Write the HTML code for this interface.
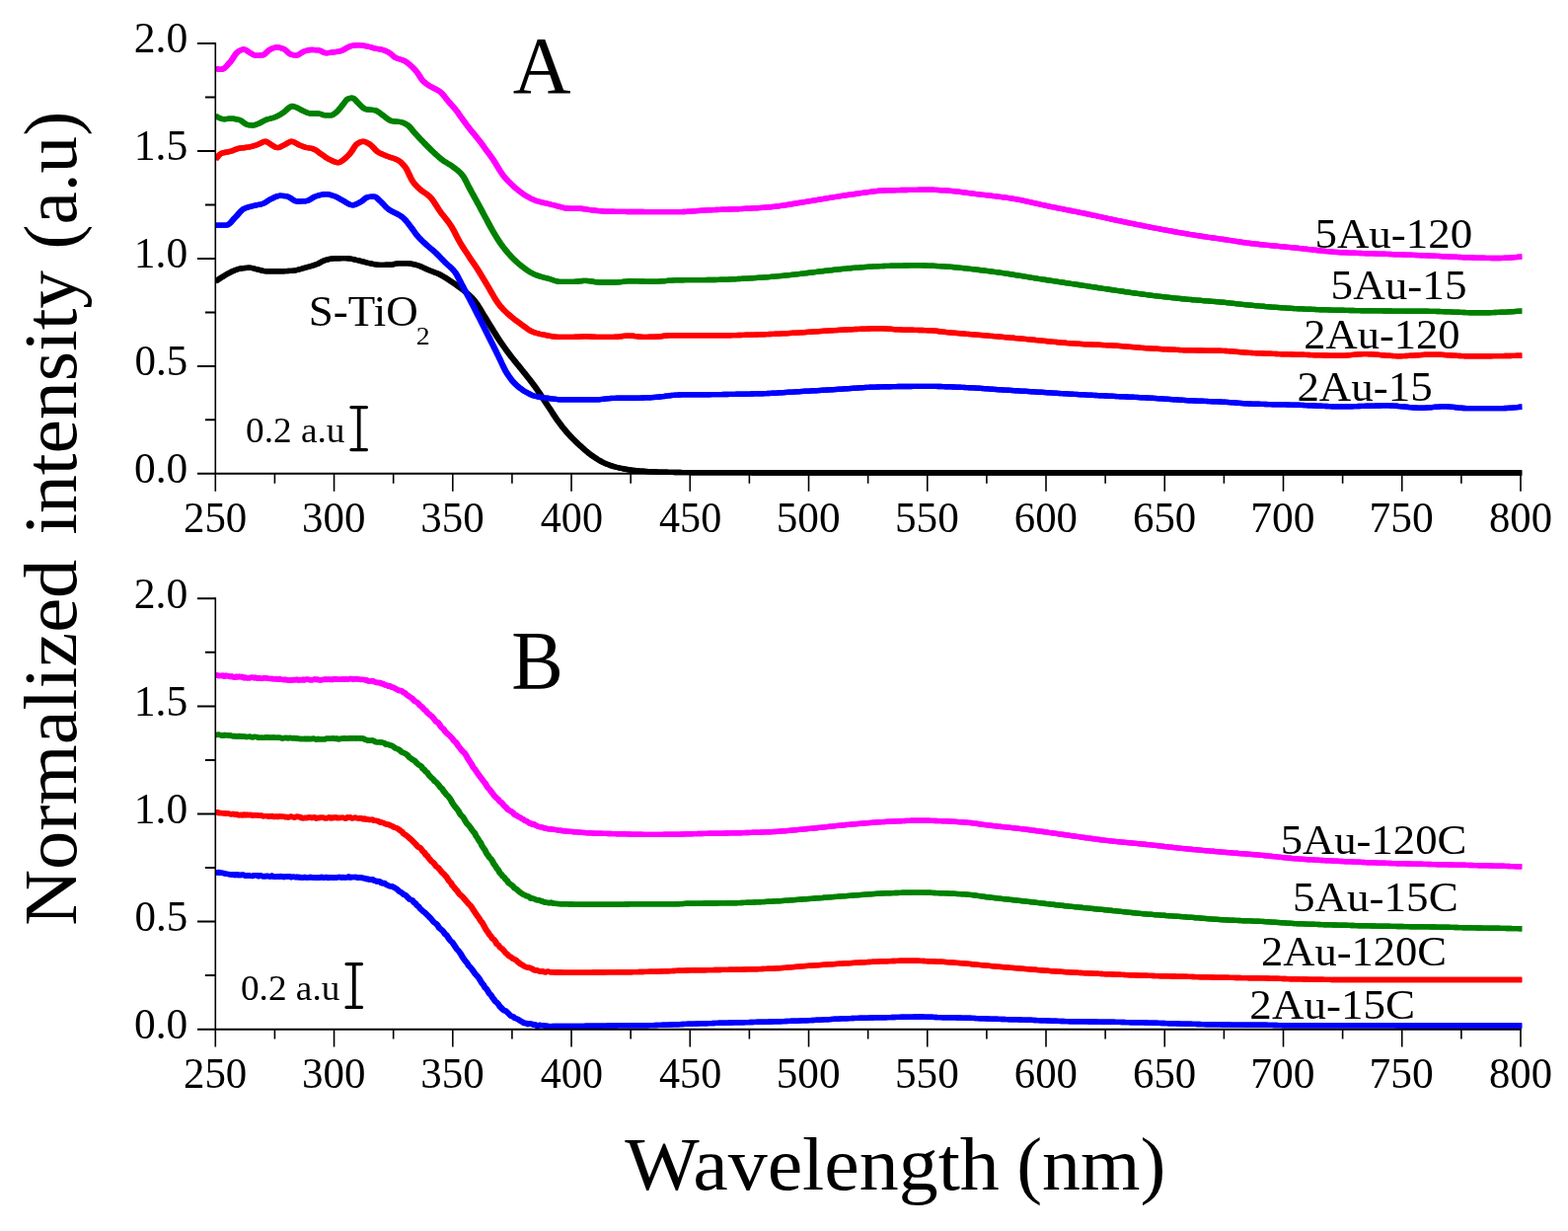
<!DOCTYPE html>
<html><head><meta charset="utf-8"><title>UV-vis spectra</title>
<style>
html,body{margin:0;padding:0;background:#fff;}
svg{display:block;}
text{font-family:"Liberation Serif",serif;fill:#000;}
</style></head>
<body>
<svg width="1589" height="1247" viewBox="0 0 1589 1247">
<rect width="1589" height="1247" fill="#fff"/>
<defs><clipPath id="ca"><rect x="219.1" y="0" width="1323.3" height="1247"/></clipPath></defs>
<g clip-path="url(#ca)" fill="none" stroke="#000000" stroke-width="5.4" stroke-linejoin="round"><path id="c1" transform="translate(-0.5,0)" d="M218.5,285.0 L220.0,284.0 L221.5,283.0 L223.0,282.0 L224.5,281.0 L226.0,280.1 L227.5,279.2 L229.0,278.3 L230.5,277.4 L232.0,276.6 L233.5,275.8 L235.0,275.0 L236.5,274.4 L238.0,273.8 L239.5,273.2 L241.0,272.7 L242.5,272.3 L244.0,272.0 L245.5,271.8 L247.0,271.6 L248.5,271.5 L250.0,271.4 L251.5,271.3 L253.0,271.3 L254.5,271.4 L256.0,271.6 L257.5,272.0 L259.0,272.5 L260.5,272.9 L262.0,273.2 L263.5,273.6 L265.0,274.0 L266.5,274.3 L268.0,274.6 L269.5,274.7 L271.0,274.7 L272.5,274.7 L274.0,274.7 L275.5,274.7 L277.0,274.7 L278.5,274.7 L280.0,274.7 L281.5,274.7 L283.0,274.7 L284.5,274.7 L286.0,274.7 L287.5,274.7 L289.0,274.6 L290.5,274.6 L292.0,274.5 L293.5,274.4 L295.0,274.4 L296.5,274.3 L298.0,274.1 L299.5,273.9 L301.0,273.5 L302.5,273.1 L304.0,272.7 L305.5,272.3 L307.0,271.8 L308.5,271.4 L310.0,271.0 L311.5,270.6 L313.0,270.2 L314.5,269.8 L316.0,269.3 L317.5,268.9 L319.0,268.4 L320.5,267.8 L322.0,267.3 L323.5,266.5 L325.0,265.7 L326.5,264.8 L328.0,264.1 L329.5,263.6 L331.0,263.2 L332.5,262.8 L334.0,262.4 L335.5,262.1 L337.0,262.0 L338.5,261.9 L340.0,261.8 L341.5,261.8 L343.0,261.7 L344.5,261.7 L346.0,261.6 L347.5,261.6 L349.0,261.6 L350.5,261.6 L352.0,261.7 L353.5,261.8 L355.0,262.1 L356.5,262.4 L358.0,262.7 L359.5,263.0 L361.0,263.4 L362.5,263.7 L364.0,264.0 L365.5,264.4 L367.0,264.8 L368.5,265.2 L370.0,265.6 L371.5,266.0 L373.0,266.4 L374.5,266.7 L376.0,267.0 L377.5,267.3 L379.0,267.6 L380.5,267.9 L382.0,268.1 L383.5,268.3 L385.0,268.4 L386.5,268.4 L388.0,268.4 L389.5,268.4 L391.0,268.3 L392.5,268.3 L394.0,268.3 L395.5,268.2 L397.0,268.1 L398.5,267.8 L400.0,267.4 L401.5,267.1 L403.0,266.9 L404.5,266.9 L406.0,266.9 L407.5,266.9 L409.0,266.9 L410.5,266.9 L412.0,266.9 L413.5,266.9 L415.0,267.0 L416.5,267.2 L418.0,267.5 L419.5,267.8 L421.0,268.2 L422.5,268.6 L424.0,269.0 L425.5,269.5 L427.0,270.2 L428.5,270.9 L430.0,271.6 L431.5,272.3 L433.0,273.0 L434.5,273.6 L436.0,274.2 L437.5,274.8 L439.0,275.3 L440.5,275.9 L442.0,276.5 L443.5,277.1 L445.0,277.7 L446.5,278.5 L448.0,279.3 L449.5,280.2 L451.0,281.1 L452.5,282.1 L454.0,283.1 L455.5,284.1 L457.0,285.1 L458.5,286.1 L460.0,287.1 L461.5,288.1 L463.0,289.1 L464.5,290.2 L466.0,291.2 L467.5,292.4 L469.0,293.5 L470.5,294.7 L472.0,296.0 L473.5,297.2 L475.0,298.5 L476.5,299.9 L478.0,301.4 L479.5,303.0 L481.0,304.8 L482.5,306.8 L484.0,309.0 L485.5,311.4 L487.0,313.8 L488.5,316.3 L490.0,318.9 L491.5,321.3 L493.0,323.7 L494.5,326.1 L496.0,328.6 L497.5,331.0 L499.0,333.5 L500.5,335.9 L502.0,338.3 L503.5,340.7 L505.0,343.0 L506.5,345.2 L508.0,347.4 L509.5,349.6 L511.0,351.7 L512.5,353.8 L514.0,355.8 L515.5,357.8 L517.0,359.8 L518.5,361.8 L520.0,363.7 L521.5,365.6 L523.0,367.4 L524.5,369.3 L526.0,371.1 L527.5,372.9 L529.0,374.8 L530.5,376.7 L532.0,378.5 L533.5,380.4 L535.0,382.3 L536.5,384.2 L538.0,386.2 L539.5,388.1 L541.0,390.1 L542.5,392.1 L544.0,394.2 L545.5,396.4 L547.0,398.6 L548.5,400.9 L550.0,403.2 L551.5,405.5 L553.0,407.8 L554.5,410.1 L556.0,412.4 L557.5,414.6 L559.0,416.9 L560.5,419.2 L562.0,421.5 L563.5,423.7 L565.0,425.9 L566.5,427.9 L568.0,429.9 L569.5,431.9 L571.0,433.7 L572.5,435.6 L574.0,437.4 L575.5,439.1 L577.0,440.7 L578.5,442.3 L580.0,443.9 L581.5,445.4 L583.0,446.8 L584.5,448.3 L586.0,449.7 L587.5,451.1 L589.0,452.4 L590.5,453.8 L592.0,455.1 L593.5,456.5 L595.0,457.7 L596.5,459.0 L598.0,460.1 L599.5,461.2 L601.0,462.3 L602.5,463.3 L604.0,464.3 L605.5,465.3 L607.0,466.2 L608.5,467.0 L610.0,467.8 L611.5,468.6 L613.0,469.3 L614.5,469.9 L616.0,470.5 L617.5,471.1 L619.0,471.6 L620.5,472.1 L622.0,472.6 L623.5,473.0 L625.0,473.4 L626.5,473.7 L628.0,474.1 L629.5,474.4 L631.0,474.7 L632.5,475.0 L634.0,475.3 L635.5,475.5 L637.0,475.8 L638.5,476.0 L640.0,476.2 L641.5,476.4 L643.0,476.5 L644.5,476.7 L646.0,476.8 L647.5,477.0 L649.0,477.1 L650.5,477.2 L652.0,477.3 L653.5,477.4 L655.0,477.5 L656.5,477.6 L658.0,477.7 L659.5,477.8 L661.0,477.8 L662.5,477.9 L664.0,478.0 L665.5,478.0 L667.0,478.1 L668.5,478.1 L670.0,478.2 L671.5,478.2 L673.0,478.3 L674.5,478.3 L676.0,478.3 L677.5,478.4 L679.0,478.4 L680.5,478.4 L682.0,478.4 L683.5,478.5 L685.0,478.5 L686.5,478.5 L688.0,478.5 L689.5,478.5 L691.0,478.6 L692.5,478.6 L694.0,478.6 L695.5,478.6 L697.0,478.6 L698.5,478.6 L700.0,478.7 L701.5,478.7 L703.0,478.7 L704.5,478.7 L706.0,478.7 L707.5,478.7 L709.0,478.7 L710.5,478.7 L712.0,478.8 L713.5,478.8 L715.0,478.8 L716.5,478.8 L718.0,478.8 L719.5,478.8 L721.0,478.8 L722.5,478.8 L724.0,478.8 L725.5,478.8 L727.0,478.8 L728.5,478.8 L730.0,478.8 L731.5,478.8 L733.0,478.9 L734.5,478.9 L736.0,478.9 L737.5,478.9 L739.0,478.9 L740.5,478.9 L742.0,478.9 L743.5,478.9 L745.0,478.9 L746.5,478.9 L748.0,478.9 L749.5,478.9 L751.0,478.9 L752.5,478.9 L754.0,478.9 L755.5,478.9 L757.0,478.9 L758.5,478.9 L760.0,478.9 L761.5,478.9 L763.0,479.0 L764.5,479.0 L766.0,479.0 L767.5,479.0 L769.0,479.0 L770.5,479.0 L772.0,479.0 L773.5,479.0 L775.0,479.0 L776.5,479.0 L778.0,479.0 L779.5,479.0 L781.0,479.0 L782.5,479.0 L784.0,479.0 L785.5,479.0 L787.0,479.0 L788.5,479.0 L790.0,479.0 L791.5,479.0 L793.0,479.0 L794.5,479.0 L796.0,479.0 L797.5,479.0 L799.0,479.0 L800.5,479.0 L802.0,479.0 L803.5,479.0 L805.0,479.0 L806.5,479.0 L808.0,479.0 L809.5,479.0 L811.0,479.0 L812.5,479.0 L814.0,479.0 L815.5,479.0 L817.0,479.0 L818.5,479.0 L820.0,479.0 L821.5,479.0 L823.0,479.0 L824.5,479.0 L826.0,479.0 L827.5,479.0 L829.0,479.0 L830.5,479.0 L832.0,479.0 L833.5,479.0 L835.0,479.0 L836.5,479.0 L838.0,479.0 L839.5,479.0 L841.0,479.0 L842.5,479.0 L844.0,479.0 L845.5,479.0 L847.0,479.0 L848.5,479.0 L850.0,479.0 L851.5,479.0 L853.0,479.0 L854.5,479.0 L856.0,479.0 L857.5,479.0 L859.0,479.0 L860.5,479.0 L862.0,479.0 L863.5,479.0 L865.0,479.0 L866.5,479.0 L868.0,479.0 L869.5,479.0 L871.0,479.0 L872.5,479.0 L874.0,479.0 L875.5,479.0 L877.0,479.0 L878.5,479.0 L880.0,479.0 L881.5,479.0 L883.0,479.0 L884.5,479.0 L886.0,479.0 L887.5,479.0 L889.0,479.0 L890.5,479.0 L892.0,479.0 L893.5,479.0 L895.0,479.0 L896.5,479.0 L898.0,479.0 L899.5,479.0 L901.0,479.0 L902.5,479.0 L904.0,479.0 L905.5,479.0 L907.0,479.0 L908.5,479.0 L910.0,479.0 L911.5,479.0 L913.0,479.0 L914.5,479.0 L916.0,479.0 L917.5,479.0 L919.0,479.0 L920.5,479.0 L922.0,479.0 L923.5,479.0 L925.0,479.0 L926.5,479.0 L928.0,479.0 L929.5,479.0 L931.0,479.0 L932.5,479.0 L934.0,479.0 L935.5,479.0 L937.0,479.0 L938.5,479.0 L940.0,479.0 L941.5,479.0 L943.0,479.0 L944.5,479.0 L946.0,479.0 L947.5,479.0 L949.0,479.0 L950.5,479.0 L952.0,479.0 L953.5,479.0 L955.0,479.0 L956.5,479.0 L958.0,479.0 L959.5,479.0 L961.0,479.0 L962.5,479.0 L964.0,479.0 L965.5,479.0 L967.0,479.0 L968.5,479.0 L970.0,479.0 L971.5,479.0 L973.0,479.0 L974.5,479.0 L976.0,479.0 L977.5,479.0 L979.0,479.0 L980.5,479.0 L982.0,479.0 L983.5,479.0 L985.0,479.0 L986.5,479.0 L988.0,479.0 L989.5,479.0 L991.0,479.0 L992.5,479.0 L994.0,479.0 L995.5,479.0 L997.0,479.0 L998.5,479.0 L1000.0,479.0 L1001.5,479.0 L1003.0,479.0 L1004.5,479.0 L1006.0,479.0 L1007.5,479.0 L1009.0,479.0 L1010.5,479.0 L1012.0,479.0 L1013.5,479.0 L1015.0,479.0 L1016.5,479.0 L1018.0,479.0 L1019.5,479.0 L1021.0,479.0 L1022.5,479.0 L1024.0,479.0 L1025.5,479.0 L1027.0,479.0 L1028.5,479.0 L1030.0,479.0 L1031.5,479.0 L1033.0,479.0 L1034.5,479.0 L1036.0,479.0 L1037.5,479.0 L1039.0,479.0 L1040.5,479.0 L1042.0,479.0 L1043.5,479.0 L1045.0,479.0 L1046.5,479.0 L1048.0,479.0 L1049.5,479.0 L1051.0,479.0 L1052.5,479.0 L1054.0,479.0 L1055.5,479.0 L1057.0,479.0 L1058.5,479.0 L1060.0,479.0 L1061.5,479.0 L1063.0,479.0 L1064.5,479.0 L1066.0,479.0 L1067.5,479.0 L1069.0,479.0 L1070.5,479.0 L1072.0,479.0 L1073.5,479.0 L1075.0,479.0 L1076.5,479.0 L1078.0,479.0 L1079.5,479.0 L1081.0,479.0 L1082.5,479.0 L1084.0,479.0 L1085.5,479.0 L1087.0,479.0 L1088.5,479.0 L1090.0,479.0 L1091.5,479.0 L1093.0,479.0 L1094.5,479.0 L1096.0,479.0 L1097.5,479.0 L1099.0,479.0 L1100.5,479.0 L1102.0,479.0 L1103.5,479.0 L1105.0,479.0 L1106.5,479.0 L1108.0,479.0 L1109.5,479.0 L1111.0,479.0 L1112.5,479.0 L1114.0,479.0 L1115.5,479.0 L1117.0,479.0 L1118.5,479.0 L1120.0,479.0 L1121.5,479.0 L1123.0,479.0 L1124.5,479.0 L1126.0,479.0 L1127.5,479.0 L1129.0,479.0 L1130.5,479.0 L1132.0,479.0 L1133.5,479.0 L1135.0,479.0 L1136.5,479.0 L1138.0,479.0 L1139.5,479.0 L1141.0,479.0 L1142.5,479.0 L1144.0,479.0 L1145.5,479.0 L1147.0,479.0 L1148.5,479.0 L1150.0,479.0 L1151.5,479.0 L1153.0,479.0 L1154.5,479.0 L1156.0,479.0 L1157.5,479.0 L1159.0,479.0 L1160.5,479.0 L1162.0,479.0 L1163.5,479.0 L1165.0,479.0 L1166.5,479.0 L1168.0,479.0 L1169.5,479.0 L1171.0,479.0 L1172.5,479.0 L1174.0,479.0 L1175.5,479.0 L1177.0,479.0 L1178.5,479.0 L1180.0,479.0 L1181.5,479.0 L1183.0,479.0 L1184.5,479.0 L1186.0,479.0 L1187.5,479.0 L1189.0,479.0 L1190.5,479.0 L1192.0,479.0 L1193.5,479.0 L1195.0,479.0 L1196.5,479.0 L1198.0,479.0 L1199.5,479.0 L1201.0,479.0 L1202.5,479.0 L1204.0,479.0 L1205.5,479.0 L1207.0,479.0 L1208.5,479.0 L1210.0,479.0 L1211.5,479.0 L1213.0,479.0 L1214.5,479.0 L1216.0,479.0 L1217.5,479.0 L1219.0,479.0 L1220.5,479.0 L1222.0,479.0 L1223.5,479.0 L1225.0,479.0 L1226.5,479.0 L1228.0,479.0 L1229.5,479.0 L1231.0,479.0 L1232.5,479.0 L1234.0,479.0 L1235.5,479.0 L1237.0,479.0 L1238.5,479.0 L1240.0,479.0 L1241.5,479.0 L1243.0,479.0 L1244.5,479.0 L1246.0,479.0 L1247.5,479.0 L1249.0,479.0 L1250.5,479.0 L1252.0,479.0 L1253.5,479.0 L1255.0,479.0 L1256.5,479.0 L1258.0,479.0 L1259.5,479.0 L1261.0,479.0 L1262.5,479.0 L1264.0,479.0 L1265.5,479.0 L1267.0,479.0 L1268.5,479.0 L1270.0,479.0 L1271.5,479.0 L1273.0,479.0 L1274.5,479.0 L1276.0,479.0 L1277.5,479.0 L1279.0,479.0 L1280.5,479.0 L1282.0,479.0 L1283.5,479.0 L1285.0,479.0 L1286.5,479.0 L1288.0,479.0 L1289.5,479.0 L1291.0,479.0 L1292.5,479.0 L1294.0,479.0 L1295.5,479.0 L1297.0,479.0 L1298.5,479.0 L1300.0,479.0 L1301.5,479.0 L1303.0,479.0 L1304.5,479.0 L1306.0,479.0 L1307.5,479.0 L1309.0,479.0 L1310.5,479.0 L1312.0,479.0 L1313.5,479.0 L1315.0,479.0 L1316.5,479.0 L1318.0,479.0 L1319.5,479.0 L1321.0,479.0 L1322.5,479.0 L1324.0,479.0 L1325.5,479.0 L1327.0,479.0 L1328.5,479.0 L1330.0,479.0 L1331.5,479.0 L1333.0,479.0 L1334.5,479.0 L1336.0,479.0 L1337.5,479.0 L1339.0,479.0 L1340.5,479.0 L1342.0,479.0 L1343.5,479.0 L1345.0,479.0 L1346.5,479.0 L1348.0,479.0 L1349.5,479.0 L1351.0,479.0 L1352.5,479.0 L1354.0,479.0 L1355.5,479.0 L1357.0,479.0 L1358.5,479.0 L1360.0,479.0 L1361.5,479.0 L1363.0,479.0 L1364.5,479.0 L1366.0,479.0 L1367.5,479.0 L1369.0,479.0 L1370.5,479.0 L1372.0,479.0 L1373.5,479.0 L1375.0,479.0 L1376.5,479.0 L1378.0,479.0 L1379.5,479.0 L1381.0,479.0 L1382.5,479.0 L1384.0,479.0 L1385.5,479.0 L1387.0,479.0 L1388.5,479.0 L1390.0,479.0 L1391.5,479.0 L1393.0,479.0 L1394.5,479.0 L1396.0,479.0 L1397.5,479.0 L1399.0,479.0 L1400.5,479.0 L1402.0,479.0 L1403.5,479.0 L1405.0,479.0 L1406.5,479.0 L1408.0,479.0 L1409.5,479.0 L1411.0,479.0 L1412.5,479.0 L1414.0,479.0 L1415.5,479.0 L1417.0,479.0 L1418.5,479.0 L1420.0,479.0 L1421.5,479.0 L1423.0,479.0 L1424.5,479.0 L1426.0,479.0 L1427.5,479.0 L1429.0,479.0 L1430.5,479.0 L1432.0,479.0 L1433.5,479.0 L1435.0,479.0 L1436.5,479.0 L1438.0,479.0 L1439.5,479.0 L1441.0,479.0 L1442.5,479.0 L1444.0,479.0 L1445.5,479.0 L1447.0,479.0 L1448.5,479.0 L1450.0,479.0 L1451.5,479.0 L1453.0,479.0 L1454.5,479.0 L1456.0,479.0 L1457.5,479.0 L1459.0,479.0 L1460.5,479.0 L1462.0,479.0 L1463.5,479.0 L1465.0,479.0 L1466.5,479.0 L1468.0,479.0 L1469.5,479.0 L1471.0,479.0 L1472.5,479.0 L1474.0,479.0 L1475.5,479.0 L1477.0,479.0 L1478.5,479.0 L1480.0,479.0 L1481.5,479.0 L1483.0,479.0 L1484.5,479.0 L1486.0,479.0 L1487.5,479.0 L1489.0,479.0 L1490.5,479.0 L1492.0,479.0 L1493.5,479.0 L1495.0,479.0 L1496.5,479.0 L1498.0,479.0 L1499.5,479.0 L1501.0,479.0 L1502.5,479.0 L1504.0,479.0 L1505.5,479.0 L1507.0,479.0 L1508.5,479.0 L1510.0,479.0 L1511.5,479.0 L1513.0,479.0 L1514.5,479.0 L1516.0,479.0 L1517.5,479.0 L1519.0,479.0 L1520.5,479.0 L1522.0,479.0 L1523.5,479.0 L1525.0,479.0 L1526.5,479.0 L1528.0,479.0 L1529.5,479.0 L1531.0,479.0 L1532.5,479.0 L1534.0,479.0 L1535.5,479.0 L1537.0,479.0 L1538.5,479.0 L1540.0,479.0 L1541.5,479.0 L1543.0,479.0"/><use href="#c1" transform="translate(1,0)"/></g>
<g clip-path="url(#ca)" fill="none" stroke="#0000ff" stroke-width="5.4" stroke-linejoin="round"><path id="c2" transform="translate(-0.5,0)" d="M218.5,228.1 L220.0,228.1 L221.5,228.1 L223.0,228.1 L224.5,228.1 L226.0,228.1 L227.5,228.1 L229.0,228.1 L230.5,227.9 L232.0,227.0 L233.5,225.7 L235.0,224.0 L236.5,222.2 L238.0,220.6 L239.5,219.1 L241.0,217.4 L242.5,215.6 L244.0,214.0 L245.5,212.6 L247.0,211.5 L248.5,210.9 L250.0,210.3 L251.5,209.9 L253.0,209.4 L254.5,209.1 L256.0,208.7 L257.5,208.3 L259.0,208.0 L260.5,207.7 L262.0,207.4 L263.5,207.1 L265.0,206.8 L266.5,206.3 L268.0,205.6 L269.5,204.7 L271.0,203.7 L272.5,202.8 L274.0,201.9 L275.5,201.2 L277.0,200.5 L278.5,199.7 L280.0,199.1 L281.5,198.6 L283.0,198.3 L284.5,198.3 L286.0,198.4 L287.5,198.5 L289.0,198.6 L290.5,198.8 L292.0,199.3 L293.5,200.1 L295.0,201.1 L296.5,202.1 L298.0,203.0 L299.5,203.7 L301.0,204.0 L302.5,204.0 L304.0,204.0 L305.5,203.9 L307.0,203.9 L308.5,203.8 L310.0,203.7 L311.5,203.4 L313.0,202.8 L314.5,201.9 L316.0,200.9 L317.5,200.0 L319.0,199.2 L320.5,198.7 L322.0,198.2 L323.5,197.8 L325.0,197.4 L326.5,197.1 L328.0,196.8 L329.5,196.7 L331.0,196.7 L332.5,196.9 L334.0,197.2 L335.5,197.6 L337.0,198.1 L338.5,198.5 L340.0,199.1 L341.5,199.8 L343.0,200.6 L344.5,201.5 L346.0,202.4 L347.5,203.2 L349.0,204.0 L350.5,205.0 L352.0,205.9 L353.5,206.7 L355.0,207.4 L356.5,207.7 L358.0,207.8 L359.5,207.4 L361.0,206.9 L362.5,206.1 L364.0,205.3 L365.5,204.5 L367.0,203.6 L368.5,202.3 L370.0,201.1 L371.5,200.1 L373.0,199.6 L374.5,199.4 L376.0,199.3 L377.5,199.2 L379.0,199.2 L380.5,199.5 L382.0,200.5 L383.5,202.0 L385.0,203.5 L386.5,204.8 L388.0,206.4 L389.5,208.0 L391.0,209.6 L392.5,211.0 L394.0,212.2 L395.5,213.1 L397.0,214.0 L398.5,214.8 L400.0,215.5 L401.5,216.2 L403.0,217.0 L404.5,217.8 L406.0,218.7 L407.5,219.8 L409.0,221.0 L410.5,222.6 L412.0,224.3 L413.5,226.2 L415.0,228.2 L416.5,230.1 L418.0,232.1 L419.5,234.2 L421.0,236.3 L422.5,238.3 L424.0,240.0 L425.5,241.6 L427.0,243.1 L428.5,244.6 L430.0,246.0 L431.5,247.4 L433.0,248.7 L434.5,250.0 L436.0,251.3 L437.5,252.5 L439.0,253.8 L440.5,255.1 L442.0,256.5 L443.5,258.0 L445.0,259.5 L446.5,261.1 L448.0,262.6 L449.5,264.2 L451.0,265.7 L452.5,267.1 L454.0,268.5 L455.5,269.8 L457.0,271.2 L458.5,272.7 L460.0,274.3 L461.5,276.2 L463.0,278.6 L464.5,281.4 L466.0,284.3 L467.5,287.3 L469.0,290.1 L470.5,292.9 L472.0,295.6 L473.5,298.4 L475.0,301.1 L476.5,304.0 L478.0,306.9 L479.5,309.8 L481.0,312.8 L482.5,315.7 L484.0,318.7 L485.5,321.6 L487.0,324.5 L488.5,327.5 L490.0,330.5 L491.5,333.5 L493.0,336.5 L494.5,339.5 L496.0,342.5 L497.5,345.5 L499.0,348.5 L500.5,351.5 L502.0,354.5 L503.5,357.6 L505.0,360.6 L506.5,363.7 L508.0,367.0 L509.5,370.2 L511.0,373.3 L512.5,376.1 L514.0,378.5 L515.5,380.8 L517.0,382.9 L518.5,384.9 L520.0,386.7 L521.5,388.3 L523.0,389.7 L524.5,391.1 L526.0,392.4 L527.5,393.6 L529.0,394.6 L530.5,395.7 L532.0,396.6 L533.5,397.4 L535.0,398.3 L536.5,399.0 L538.0,399.8 L539.5,400.4 L541.0,401.0 L542.5,401.4 L544.0,401.7 L545.5,402.0 L547.0,402.3 L548.5,402.5 L550.0,402.7 L551.5,402.9 L553.0,403.1 L554.5,403.3 L556.0,403.5 L557.5,403.7 L559.0,403.9 L560.5,404.1 L562.0,404.2 L563.5,404.4 L565.0,404.6 L566.5,404.7 L568.0,404.8 L569.5,404.9 L571.0,404.9 L572.5,404.9 L574.0,404.9 L575.5,404.9 L577.0,404.9 L578.5,404.9 L580.0,404.9 L581.5,404.9 L583.0,404.9 L584.5,404.9 L586.0,404.9 L587.5,404.9 L589.0,404.9 L590.5,404.9 L592.0,404.9 L593.5,404.9 L595.0,404.9 L596.5,404.8 L598.0,404.8 L599.5,404.8 L601.0,404.8 L602.5,404.8 L604.0,404.7 L605.5,404.7 L607.0,404.7 L608.5,404.6 L610.0,404.4 L611.5,404.3 L613.0,404.1 L614.5,403.9 L616.0,403.7 L617.5,403.6 L619.0,403.5 L620.5,403.4 L622.0,403.4 L623.5,403.4 L625.0,403.3 L626.5,403.3 L628.0,403.3 L629.5,403.3 L631.0,403.3 L632.5,403.3 L634.0,403.3 L635.5,403.3 L637.0,403.3 L638.5,403.3 L640.0,403.2 L641.5,403.2 L643.0,403.2 L644.5,403.2 L646.0,403.2 L647.5,403.1 L649.0,403.1 L650.5,403.0 L652.0,403.0 L653.5,402.9 L655.0,402.9 L656.5,402.8 L658.0,402.7 L659.5,402.7 L661.0,402.6 L662.5,402.5 L664.0,402.4 L665.5,402.3 L667.0,402.2 L668.5,402.0 L670.0,401.8 L671.5,401.6 L673.0,401.5 L674.5,401.3 L676.0,401.1 L677.5,400.9 L679.0,400.7 L680.5,400.5 L682.0,400.4 L683.5,400.3 L685.0,400.1 L686.5,400.1 L688.0,400.0 L689.5,400.0 L691.0,399.9 L692.5,399.9 L694.0,399.9 L695.5,399.9 L697.0,399.9 L698.5,399.8 L700.0,399.8 L701.5,399.8 L703.0,399.8 L704.5,399.8 L706.0,399.8 L707.5,399.7 L709.0,399.7 L710.5,399.7 L712.0,399.7 L713.5,399.7 L715.0,399.7 L716.5,399.7 L718.0,399.7 L719.5,399.7 L721.0,399.6 L722.5,399.6 L724.0,399.6 L725.5,399.6 L727.0,399.6 L728.5,399.6 L730.0,399.6 L731.5,399.6 L733.0,399.5 L734.5,399.5 L736.0,399.5 L737.5,399.5 L739.0,399.4 L740.5,399.4 L742.0,399.4 L743.5,399.4 L745.0,399.4 L746.5,399.3 L748.0,399.3 L749.5,399.3 L751.0,399.2 L752.5,399.2 L754.0,399.2 L755.5,399.2 L757.0,399.1 L758.5,399.1 L760.0,399.1 L761.5,399.0 L763.0,399.0 L764.5,398.9 L766.0,398.9 L767.5,398.9 L769.0,398.8 L770.5,398.8 L772.0,398.7 L773.5,398.7 L775.0,398.6 L776.5,398.6 L778.0,398.5 L779.5,398.5 L781.0,398.4 L782.5,398.3 L784.0,398.2 L785.5,398.2 L787.0,398.1 L788.5,398.0 L790.0,397.9 L791.5,397.8 L793.0,397.7 L794.5,397.6 L796.0,397.5 L797.5,397.4 L799.0,397.3 L800.5,397.2 L802.0,397.1 L803.5,397.1 L805.0,397.0 L806.5,396.9 L808.0,396.8 L809.5,396.7 L811.0,396.6 L812.5,396.5 L814.0,396.4 L815.5,396.3 L817.0,396.3 L818.5,396.2 L820.0,396.1 L821.5,396.0 L823.0,395.9 L824.5,395.8 L826.0,395.7 L827.5,395.7 L829.0,395.6 L830.5,395.5 L832.0,395.4 L833.5,395.3 L835.0,395.2 L836.5,395.1 L838.0,395.0 L839.5,395.0 L841.0,394.9 L842.5,394.8 L844.0,394.7 L845.5,394.6 L847.0,394.5 L848.5,394.4 L850.0,394.3 L851.5,394.2 L853.0,394.1 L854.5,394.0 L856.0,393.9 L857.5,393.8 L859.0,393.7 L860.5,393.6 L862.0,393.5 L863.5,393.4 L865.0,393.3 L866.5,393.2 L868.0,393.1 L869.5,393.0 L871.0,392.9 L872.5,392.8 L874.0,392.7 L875.5,392.6 L877.0,392.5 L878.5,392.4 L880.0,392.4 L881.5,392.3 L883.0,392.2 L884.5,392.2 L886.0,392.1 L887.5,392.1 L889.0,392.0 L890.5,392.0 L892.0,391.9 L893.5,391.9 L895.0,391.9 L896.5,391.8 L898.0,391.8 L899.5,391.7 L901.0,391.7 L902.5,391.7 L904.0,391.6 L905.5,391.6 L907.0,391.6 L908.5,391.6 L910.0,391.5 L911.5,391.5 L913.0,391.5 L914.5,391.5 L916.0,391.5 L917.5,391.5 L919.0,391.5 L920.5,391.5 L922.0,391.5 L923.5,391.5 L925.0,391.4 L926.5,391.4 L928.0,391.4 L929.5,391.4 L931.0,391.4 L932.5,391.4 L934.0,391.4 L935.5,391.4 L937.0,391.4 L938.5,391.4 L940.0,391.4 L941.5,391.4 L943.0,391.4 L944.5,391.4 L946.0,391.4 L947.5,391.4 L949.0,391.4 L950.5,391.5 L952.0,391.5 L953.5,391.5 L955.0,391.6 L956.5,391.6 L958.0,391.7 L959.5,391.7 L961.0,391.8 L962.5,391.8 L964.0,391.9 L965.5,392.0 L967.0,392.0 L968.5,392.1 L970.0,392.2 L971.5,392.2 L973.0,392.3 L974.5,392.4 L976.0,392.4 L977.5,392.5 L979.0,392.6 L980.5,392.6 L982.0,392.7 L983.5,392.8 L985.0,392.9 L986.5,392.9 L988.0,393.0 L989.5,393.1 L991.0,393.2 L992.5,393.3 L994.0,393.4 L995.5,393.5 L997.0,393.6 L998.5,393.7 L1000.0,393.8 L1001.5,393.9 L1003.0,394.1 L1004.5,394.2 L1006.0,394.3 L1007.5,394.4 L1009.0,394.5 L1010.5,394.6 L1012.0,394.7 L1013.5,394.8 L1015.0,394.9 L1016.5,395.0 L1018.0,395.1 L1019.5,395.1 L1021.0,395.2 L1022.5,395.3 L1024.0,395.4 L1025.5,395.5 L1027.0,395.6 L1028.5,395.7 L1030.0,395.8 L1031.5,395.9 L1033.0,396.0 L1034.5,396.1 L1036.0,396.2 L1037.5,396.2 L1039.0,396.3 L1040.5,396.4 L1042.0,396.5 L1043.5,396.6 L1045.0,396.7 L1046.5,396.8 L1048.0,396.9 L1049.5,397.0 L1051.0,397.1 L1052.5,397.2 L1054.0,397.2 L1055.5,397.3 L1057.0,397.4 L1058.5,397.5 L1060.0,397.6 L1061.5,397.7 L1063.0,397.8 L1064.5,397.9 L1066.0,398.0 L1067.5,398.1 L1069.0,398.2 L1070.5,398.3 L1072.0,398.4 L1073.5,398.5 L1075.0,398.6 L1076.5,398.6 L1078.0,398.7 L1079.5,398.8 L1081.0,398.9 L1082.5,399.0 L1084.0,399.1 L1085.5,399.2 L1087.0,399.3 L1088.5,399.4 L1090.0,399.4 L1091.5,399.5 L1093.0,399.6 L1094.5,399.7 L1096.0,399.8 L1097.5,399.8 L1099.0,399.9 L1100.5,400.0 L1102.0,400.1 L1103.5,400.2 L1105.0,400.2 L1106.5,400.3 L1108.0,400.4 L1109.5,400.5 L1111.0,400.5 L1112.5,400.6 L1114.0,400.7 L1115.5,400.8 L1117.0,400.8 L1118.5,400.9 L1120.0,401.0 L1121.5,401.0 L1123.0,401.1 L1124.5,401.2 L1126.0,401.3 L1127.5,401.3 L1129.0,401.4 L1130.5,401.5 L1132.0,401.6 L1133.5,401.6 L1135.0,401.7 L1136.5,401.8 L1138.0,401.8 L1139.5,401.9 L1141.0,402.0 L1142.5,402.0 L1144.0,402.1 L1145.5,402.2 L1147.0,402.2 L1148.5,402.3 L1150.0,402.4 L1151.5,402.4 L1153.0,402.5 L1154.5,402.6 L1156.0,402.7 L1157.5,402.7 L1159.0,402.8 L1160.5,402.9 L1162.0,403.0 L1163.5,403.0 L1165.0,403.1 L1166.5,403.2 L1168.0,403.3 L1169.5,403.4 L1171.0,403.5 L1172.5,403.6 L1174.0,403.7 L1175.5,403.8 L1177.0,403.9 L1178.5,404.0 L1180.0,404.1 L1181.5,404.2 L1183.0,404.3 L1184.5,404.4 L1186.0,404.5 L1187.5,404.6 L1189.0,404.7 L1190.5,404.8 L1192.0,404.9 L1193.5,405.0 L1195.0,405.1 L1196.5,405.2 L1198.0,405.3 L1199.5,405.4 L1201.0,405.5 L1202.5,405.6 L1204.0,405.7 L1205.5,405.8 L1207.0,405.8 L1208.5,405.9 L1210.0,406.0 L1211.5,406.0 L1213.0,406.1 L1214.5,406.2 L1216.0,406.2 L1217.5,406.3 L1219.0,406.3 L1220.5,406.4 L1222.0,406.4 L1223.5,406.5 L1225.0,406.6 L1226.5,406.6 L1228.0,406.7 L1229.5,406.7 L1231.0,406.8 L1232.5,406.8 L1234.0,406.9 L1235.5,407.0 L1237.0,407.0 L1238.5,407.1 L1240.0,407.2 L1241.5,407.3 L1243.0,407.4 L1244.5,407.5 L1246.0,407.6 L1247.5,407.7 L1249.0,407.8 L1250.5,407.9 L1252.0,408.0 L1253.5,408.2 L1255.0,408.3 L1256.5,408.4 L1258.0,408.5 L1259.5,408.6 L1261.0,408.7 L1262.5,408.8 L1264.0,408.9 L1265.5,409.0 L1267.0,409.0 L1268.5,409.1 L1270.0,409.1 L1271.5,409.2 L1273.0,409.2 L1274.5,409.3 L1276.0,409.3 L1277.5,409.4 L1279.0,409.4 L1280.5,409.4 L1282.0,409.5 L1283.5,409.5 L1285.0,409.6 L1286.5,409.6 L1288.0,409.6 L1289.5,409.7 L1291.0,409.7 L1292.5,409.7 L1294.0,409.7 L1295.5,409.8 L1297.0,409.8 L1298.5,409.8 L1300.0,409.9 L1301.5,409.9 L1303.0,409.9 L1304.5,410.0 L1306.0,410.0 L1307.5,410.1 L1309.0,410.1 L1310.5,410.1 L1312.0,410.2 L1313.5,410.2 L1315.0,410.3 L1316.5,410.3 L1318.0,410.4 L1319.5,410.4 L1321.0,410.5 L1322.5,410.6 L1324.0,410.6 L1325.5,410.7 L1327.0,410.8 L1328.5,410.8 L1330.0,410.9 L1331.5,411.0 L1333.0,411.0 L1334.5,411.1 L1336.0,411.2 L1337.5,411.2 L1339.0,411.3 L1340.5,411.4 L1342.0,411.4 L1343.5,411.5 L1345.0,411.5 L1346.5,411.6 L1348.0,411.6 L1349.5,411.7 L1351.0,411.7 L1352.5,411.7 L1354.0,411.8 L1355.5,411.8 L1357.0,411.8 L1358.5,411.8 L1360.0,411.8 L1361.5,411.8 L1363.0,411.8 L1364.5,411.8 L1366.0,411.7 L1367.5,411.7 L1369.0,411.7 L1370.5,411.7 L1372.0,411.6 L1373.5,411.6 L1375.0,411.6 L1376.5,411.5 L1378.0,411.5 L1379.5,411.4 L1381.0,411.4 L1382.5,411.4 L1384.0,411.3 L1385.5,411.3 L1387.0,411.2 L1388.5,411.2 L1390.0,411.1 L1391.5,411.1 L1393.0,411.1 L1394.5,411.0 L1396.0,411.0 L1397.5,411.0 L1399.0,411.0 L1400.5,410.9 L1402.0,410.9 L1403.5,410.9 L1405.0,410.9 L1406.5,410.9 L1408.0,410.9 L1409.5,411.0 L1411.0,411.0 L1412.5,411.1 L1414.0,411.2 L1415.5,411.3 L1417.0,411.5 L1418.5,411.6 L1420.0,411.7 L1421.5,411.9 L1423.0,412.0 L1424.5,412.2 L1426.0,412.3 L1427.5,412.5 L1429.0,412.6 L1430.5,412.7 L1432.0,412.8 L1433.5,413.0 L1435.0,413.0 L1436.5,413.1 L1438.0,413.2 L1439.5,413.2 L1441.0,413.2 L1442.5,413.2 L1444.0,413.1 L1445.5,413.0 L1447.0,412.9 L1448.5,412.8 L1450.0,412.7 L1451.5,412.6 L1453.0,412.4 L1454.5,412.3 L1456.0,412.2 L1457.5,412.1 L1459.0,412.0 L1460.5,411.9 L1462.0,411.8 L1463.5,411.8 L1465.0,411.8 L1466.5,411.9 L1468.0,412.0 L1469.5,412.1 L1471.0,412.2 L1472.5,412.4 L1474.0,412.5 L1475.5,412.7 L1477.0,412.9 L1478.5,413.1 L1480.0,413.2 L1481.5,413.3 L1483.0,413.5 L1484.5,413.5 L1486.0,413.6 L1487.5,413.6 L1489.0,413.6 L1490.5,413.6 L1492.0,413.6 L1493.5,413.6 L1495.0,413.6 L1496.5,413.6 L1498.0,413.6 L1499.5,413.6 L1501.0,413.6 L1502.5,413.6 L1504.0,413.6 L1505.5,413.6 L1507.0,413.6 L1508.5,413.6 L1510.0,413.6 L1511.5,413.6 L1513.0,413.6 L1514.5,413.6 L1516.0,413.6 L1517.5,413.6 L1519.0,413.6 L1520.5,413.6 L1522.0,413.6 L1523.5,413.6 L1525.0,413.5 L1526.5,413.5 L1528.0,413.4 L1529.5,413.3 L1531.0,413.2 L1532.5,413.1 L1534.0,412.9 L1535.5,412.8 L1537.0,412.6 L1538.5,412.5 L1540.0,412.3 L1541.5,412.2 L1543.0,412.0"/><use href="#c2" transform="translate(1,0)"/></g>
<g clip-path="url(#ca)" fill="none" stroke="#ff0000" stroke-width="5.4" stroke-linejoin="round"><path id="c3" transform="translate(-0.5,0)" d="M218.5,161.5 L220.0,159.5 L221.5,157.7 L223.0,156.2 L224.5,155.3 L226.0,154.8 L227.5,154.5 L229.0,154.2 L230.5,154.0 L232.0,153.7 L233.5,153.3 L235.0,152.9 L236.5,152.3 L238.0,151.6 L239.5,151.1 L241.0,150.6 L242.5,150.2 L244.0,150.0 L245.5,149.8 L247.0,149.7 L248.5,149.5 L250.0,149.3 L251.5,149.1 L253.0,148.8 L254.5,148.5 L256.0,148.1 L257.5,147.6 L259.0,147.2 L260.5,146.7 L262.0,146.1 L263.5,145.4 L265.0,144.6 L266.5,143.9 L268.0,143.4 L269.5,143.3 L271.0,143.9 L272.5,144.9 L274.0,146.0 L275.5,146.9 L277.0,147.9 L278.5,148.8 L280.0,149.4 L281.5,149.6 L283.0,149.3 L284.5,148.7 L286.0,147.9 L287.5,147.1 L289.0,146.4 L290.5,145.5 L292.0,144.6 L293.5,143.8 L295.0,143.3 L296.5,143.4 L298.0,144.0 L299.5,144.8 L301.0,145.7 L302.5,146.5 L304.0,147.2 L305.5,147.8 L307.0,148.4 L308.5,148.9 L310.0,149.3 L311.5,149.6 L313.0,149.9 L314.5,150.1 L316.0,150.4 L317.5,150.9 L319.0,151.5 L320.5,152.4 L322.0,153.5 L323.5,154.7 L325.0,155.8 L326.5,156.8 L328.0,157.8 L329.5,158.9 L331.0,159.9 L332.5,160.8 L334.0,161.6 L335.5,162.3 L337.0,163.0 L338.5,163.7 L340.0,164.2 L341.5,164.6 L343.0,164.7 L344.5,164.3 L346.0,163.4 L347.5,162.3 L349.0,161.1 L350.5,159.9 L352.0,158.4 L353.5,156.9 L355.0,155.2 L356.5,153.2 L358.0,150.8 L359.5,148.4 L361.0,146.5 L362.5,145.4 L364.0,144.5 L365.5,143.8 L367.0,143.4 L368.5,143.3 L370.0,143.7 L371.5,144.3 L373.0,145.2 L374.5,146.0 L376.0,147.1 L377.5,148.6 L379.0,150.2 L380.5,151.8 L382.0,153.2 L383.5,154.2 L385.0,155.1 L386.5,155.8 L388.0,156.5 L389.5,157.1 L391.0,157.7 L392.5,158.3 L394.0,158.8 L395.5,159.4 L397.0,159.8 L398.5,160.3 L400.0,160.8 L401.5,161.4 L403.0,162.1 L404.5,163.0 L406.0,164.2 L407.5,165.7 L409.0,167.3 L410.5,169.1 L412.0,171.3 L413.5,174.3 L415.0,177.5 L416.5,180.7 L418.0,183.4 L419.5,185.4 L421.0,187.2 L422.5,188.8 L424.0,190.2 L425.5,191.6 L427.0,192.9 L428.5,194.1 L430.0,195.1 L431.5,196.1 L433.0,197.1 L434.5,198.3 L436.0,199.7 L437.5,201.4 L439.0,203.4 L440.5,205.7 L442.0,208.0 L443.5,210.4 L445.0,212.7 L446.5,214.8 L448.0,216.8 L449.5,218.7 L451.0,220.6 L452.5,222.5 L454.0,224.4 L455.5,226.5 L457.0,228.7 L458.5,231.2 L460.0,233.9 L461.5,236.8 L463.0,239.8 L464.5,242.6 L466.0,245.3 L467.5,247.8 L469.0,250.2 L470.5,252.6 L472.0,254.9 L473.5,257.1 L475.0,259.4 L476.5,261.7 L478.0,263.9 L479.5,266.1 L481.0,268.3 L482.5,270.5 L484.0,272.8 L485.5,275.2 L487.0,277.7 L488.5,280.2 L490.0,282.7 L491.5,285.2 L493.0,287.7 L494.5,290.2 L496.0,292.7 L497.5,295.3 L499.0,297.9 L500.5,300.5 L502.0,303.0 L503.5,305.3 L505.0,307.5 L506.5,309.4 L508.0,311.2 L509.5,312.8 L511.0,314.4 L512.5,315.9 L514.0,317.3 L515.5,318.6 L517.0,319.9 L518.5,321.2 L520.0,322.4 L521.5,323.6 L523.0,324.7 L524.5,325.8 L526.0,326.9 L527.5,328.0 L529.0,329.1 L530.5,330.2 L532.0,331.3 L533.5,332.4 L535.0,333.5 L536.5,334.5 L538.0,335.3 L539.5,336.0 L541.0,336.6 L542.5,337.1 L544.0,337.5 L545.5,337.9 L547.0,338.3 L548.5,338.6 L550.0,338.9 L551.5,339.2 L553.0,339.5 L554.5,339.8 L556.0,340.1 L557.5,340.4 L559.0,340.7 L560.5,340.9 L562.0,341.2 L563.5,341.3 L565.0,341.4 L566.5,341.4 L568.0,341.4 L569.5,341.4 L571.0,341.4 L572.5,341.4 L574.0,341.4 L575.5,341.4 L577.0,341.4 L578.5,341.4 L580.0,341.4 L581.5,341.4 L583.0,341.3 L584.5,341.3 L586.0,341.2 L587.5,341.1 L589.0,341.0 L590.5,340.9 L592.0,340.8 L593.5,340.8 L595.0,340.8 L596.5,340.9 L598.0,341.0 L599.5,341.1 L601.0,341.2 L602.5,341.3 L604.0,341.4 L605.5,341.4 L607.0,341.4 L608.5,341.4 L610.0,341.4 L611.5,341.4 L613.0,341.4 L614.5,341.4 L616.0,341.4 L617.5,341.4 L619.0,341.4 L620.5,341.4 L622.0,341.4 L623.5,341.3 L625.0,341.2 L626.5,341.1 L628.0,340.9 L629.5,340.7 L631.0,340.5 L632.5,340.4 L634.0,340.2 L635.5,340.1 L637.0,340.1 L638.5,340.1 L640.0,340.2 L641.5,340.3 L643.0,340.5 L644.5,340.6 L646.0,340.8 L647.5,341.0 L649.0,341.1 L650.5,341.3 L652.0,341.4 L653.5,341.4 L655.0,341.4 L656.5,341.4 L658.0,341.3 L659.5,341.3 L661.0,341.2 L662.5,341.2 L664.0,341.1 L665.5,341.0 L667.0,341.0 L668.5,340.8 L670.0,340.7 L671.5,340.5 L673.0,340.3 L674.5,340.2 L676.0,340.0 L677.5,339.9 L679.0,339.9 L680.5,339.9 L682.0,339.9 L683.5,339.9 L685.0,339.9 L686.5,339.8 L688.0,339.8 L689.5,339.8 L691.0,339.8 L692.5,339.8 L694.0,339.8 L695.5,339.8 L697.0,339.8 L698.5,339.8 L700.0,339.8 L701.5,339.8 L703.0,339.8 L704.5,339.8 L706.0,339.8 L707.5,339.8 L709.0,339.8 L710.5,339.8 L712.0,339.8 L713.5,339.8 L715.0,339.8 L716.5,339.8 L718.0,339.8 L719.5,339.8 L721.0,339.8 L722.5,339.8 L724.0,339.8 L725.5,339.7 L727.0,339.7 L728.5,339.7 L730.0,339.7 L731.5,339.7 L733.0,339.7 L734.5,339.7 L736.0,339.7 L737.5,339.7 L739.0,339.7 L740.5,339.7 L742.0,339.6 L743.5,339.6 L745.0,339.6 L746.5,339.6 L748.0,339.5 L749.5,339.5 L751.0,339.5 L752.5,339.4 L754.0,339.4 L755.5,339.3 L757.0,339.3 L758.5,339.2 L760.0,339.2 L761.5,339.2 L763.0,339.1 L764.5,339.1 L766.0,339.0 L767.5,339.0 L769.0,338.9 L770.5,338.9 L772.0,338.8 L773.5,338.7 L775.0,338.7 L776.5,338.6 L778.0,338.6 L779.5,338.5 L781.0,338.5 L782.5,338.4 L784.0,338.4 L785.5,338.3 L787.0,338.2 L788.5,338.2 L790.0,338.1 L791.5,338.0 L793.0,337.9 L794.5,337.9 L796.0,337.8 L797.5,337.7 L799.0,337.6 L800.5,337.5 L802.0,337.4 L803.5,337.3 L805.0,337.3 L806.5,337.2 L808.0,337.1 L809.5,337.0 L811.0,336.9 L812.5,336.8 L814.0,336.7 L815.5,336.6 L817.0,336.5 L818.5,336.4 L820.0,336.3 L821.5,336.2 L823.0,336.1 L824.5,336.0 L826.0,335.9 L827.5,335.8 L829.0,335.7 L830.5,335.6 L832.0,335.5 L833.5,335.4 L835.0,335.3 L836.5,335.2 L838.0,335.1 L839.5,335.0 L841.0,334.9 L842.5,334.8 L844.0,334.7 L845.5,334.6 L847.0,334.6 L848.5,334.5 L850.0,334.4 L851.5,334.3 L853.0,334.2 L854.5,334.1 L856.0,334.0 L857.5,334.0 L859.0,333.9 L860.5,333.8 L862.0,333.7 L863.5,333.7 L865.0,333.6 L866.5,333.5 L868.0,333.5 L869.5,333.4 L871.0,333.4 L872.5,333.3 L874.0,333.2 L875.5,333.2 L877.0,333.1 L878.5,333.1 L880.0,333.0 L881.5,333.0 L883.0,332.9 L884.5,332.9 L886.0,332.8 L887.5,332.8 L889.0,332.8 L890.5,332.8 L892.0,332.8 L893.5,332.8 L895.0,332.9 L896.5,333.0 L898.0,333.0 L899.5,333.1 L901.0,333.2 L902.5,333.3 L904.0,333.4 L905.5,333.6 L907.0,333.7 L908.5,333.8 L910.0,333.9 L911.5,333.9 L913.0,334.0 L914.5,334.1 L916.0,334.1 L917.5,334.2 L919.0,334.2 L920.5,334.3 L922.0,334.3 L923.5,334.3 L925.0,334.3 L926.5,334.4 L928.0,334.4 L929.5,334.4 L931.0,334.5 L932.5,334.5 L934.0,334.5 L935.5,334.5 L937.0,334.6 L938.5,334.6 L940.0,334.7 L941.5,334.7 L943.0,334.8 L944.5,334.9 L946.0,335.0 L947.5,335.1 L949.0,335.3 L950.5,335.5 L952.0,335.7 L953.5,335.9 L955.0,336.1 L956.5,336.2 L958.0,336.4 L959.5,336.6 L961.0,336.7 L962.5,336.8 L964.0,337.0 L965.5,337.1 L967.0,337.2 L968.5,337.4 L970.0,337.5 L971.5,337.6 L973.0,337.8 L974.5,337.9 L976.0,338.0 L977.5,338.1 L979.0,338.3 L980.5,338.4 L982.0,338.5 L983.5,338.6 L985.0,338.7 L986.5,338.9 L988.0,339.0 L989.5,339.1 L991.0,339.2 L992.5,339.4 L994.0,339.5 L995.5,339.6 L997.0,339.7 L998.5,339.9 L1000.0,340.0 L1001.5,340.1 L1003.0,340.3 L1004.5,340.4 L1006.0,340.5 L1007.5,340.6 L1009.0,340.8 L1010.5,340.9 L1012.0,341.0 L1013.5,341.2 L1015.0,341.3 L1016.5,341.4 L1018.0,341.6 L1019.5,341.7 L1021.0,341.8 L1022.5,341.9 L1024.0,342.1 L1025.5,342.2 L1027.0,342.3 L1028.5,342.5 L1030.0,342.6 L1031.5,342.7 L1033.0,342.9 L1034.5,343.0 L1036.0,343.1 L1037.5,343.3 L1039.0,343.4 L1040.5,343.6 L1042.0,343.7 L1043.5,343.9 L1045.0,344.0 L1046.5,344.2 L1048.0,344.3 L1049.5,344.5 L1051.0,344.6 L1052.5,344.8 L1054.0,344.9 L1055.5,345.1 L1057.0,345.2 L1058.5,345.4 L1060.0,345.5 L1061.5,345.7 L1063.0,345.8 L1064.5,346.0 L1066.0,346.1 L1067.5,346.3 L1069.0,346.4 L1070.5,346.5 L1072.0,346.7 L1073.5,346.8 L1075.0,347.0 L1076.5,347.1 L1078.0,347.2 L1079.5,347.3 L1081.0,347.5 L1082.5,347.6 L1084.0,347.7 L1085.5,347.8 L1087.0,347.9 L1088.5,348.0 L1090.0,348.1 L1091.5,348.2 L1093.0,348.3 L1094.5,348.4 L1096.0,348.5 L1097.5,348.6 L1099.0,348.7 L1100.5,348.7 L1102.0,348.8 L1103.5,348.9 L1105.0,348.9 L1106.5,349.0 L1108.0,349.1 L1109.5,349.1 L1111.0,349.2 L1112.5,349.3 L1114.0,349.3 L1115.5,349.4 L1117.0,349.5 L1118.5,349.6 L1120.0,349.6 L1121.5,349.7 L1123.0,349.8 L1124.5,349.9 L1126.0,349.9 L1127.5,350.0 L1129.0,350.1 L1130.5,350.2 L1132.0,350.3 L1133.5,350.4 L1135.0,350.5 L1136.5,350.6 L1138.0,350.8 L1139.5,350.9 L1141.0,351.0 L1142.5,351.1 L1144.0,351.2 L1145.5,351.4 L1147.0,351.5 L1148.5,351.6 L1150.0,351.8 L1151.5,351.9 L1153.0,352.0 L1154.5,352.1 L1156.0,352.3 L1157.5,352.4 L1159.0,352.5 L1160.5,352.6 L1162.0,352.7 L1163.5,352.8 L1165.0,352.9 L1166.5,353.0 L1168.0,353.1 L1169.5,353.2 L1171.0,353.3 L1172.5,353.3 L1174.0,353.4 L1175.5,353.5 L1177.0,353.6 L1178.5,353.7 L1180.0,353.8 L1181.5,353.9 L1183.0,353.9 L1184.5,354.0 L1186.0,354.1 L1187.5,354.2 L1189.0,354.2 L1190.5,354.3 L1192.0,354.4 L1193.5,354.4 L1195.0,354.5 L1196.5,354.6 L1198.0,354.6 L1199.5,354.7 L1201.0,354.7 L1202.5,354.8 L1204.0,354.8 L1205.5,354.8 L1207.0,354.9 L1208.5,354.9 L1210.0,354.9 L1211.5,354.9 L1213.0,355.0 L1214.5,355.0 L1216.0,355.0 L1217.5,355.0 L1219.0,355.0 L1220.5,355.1 L1222.0,355.1 L1223.5,355.1 L1225.0,355.1 L1226.5,355.1 L1228.0,355.2 L1229.5,355.2 L1231.0,355.2 L1232.5,355.2 L1234.0,355.3 L1235.5,355.3 L1237.0,355.3 L1238.5,355.4 L1240.0,355.4 L1241.5,355.5 L1243.0,355.5 L1244.5,355.6 L1246.0,355.7 L1247.5,355.8 L1249.0,355.9 L1250.5,356.1 L1252.0,356.2 L1253.5,356.4 L1255.0,356.5 L1256.5,356.6 L1258.0,356.8 L1259.5,356.9 L1261.0,357.0 L1262.5,357.2 L1264.0,357.3 L1265.5,357.4 L1267.0,357.4 L1268.5,357.5 L1270.0,357.6 L1271.5,357.6 L1273.0,357.7 L1274.5,357.8 L1276.0,357.9 L1277.5,357.9 L1279.0,358.0 L1280.5,358.0 L1282.0,358.1 L1283.5,358.2 L1285.0,358.2 L1286.5,358.3 L1288.0,358.3 L1289.5,358.4 L1291.0,358.4 L1292.5,358.5 L1294.0,358.5 L1295.5,358.6 L1297.0,358.6 L1298.5,358.7 L1300.0,358.7 L1301.5,358.8 L1303.0,358.8 L1304.5,358.9 L1306.0,358.9 L1307.5,358.9 L1309.0,359.0 L1310.5,359.0 L1312.0,359.1 L1313.5,359.1 L1315.0,359.2 L1316.5,359.2 L1318.0,359.3 L1319.5,359.3 L1321.0,359.3 L1322.5,359.4 L1324.0,359.4 L1325.5,359.5 L1327.0,359.5 L1328.5,359.6 L1330.0,359.6 L1331.5,359.7 L1333.0,359.7 L1334.5,359.8 L1336.0,359.8 L1337.5,359.9 L1339.0,359.9 L1340.5,359.9 L1342.0,360.0 L1343.5,360.0 L1345.0,360.0 L1346.5,360.1 L1348.0,360.1 L1349.5,360.1 L1351.0,360.1 L1352.5,360.2 L1354.0,360.2 L1355.5,360.2 L1357.0,360.2 L1358.5,360.2 L1360.0,360.2 L1361.5,360.2 L1363.0,360.1 L1364.5,360.0 L1366.0,359.9 L1367.5,359.7 L1369.0,359.6 L1370.5,359.4 L1372.0,359.3 L1373.5,359.1 L1375.0,359.0 L1376.5,358.9 L1378.0,358.8 L1379.5,358.7 L1381.0,358.6 L1382.5,358.6 L1384.0,358.6 L1385.5,358.6 L1387.0,358.7 L1388.5,358.8 L1390.0,358.8 L1391.5,358.9 L1393.0,359.1 L1394.5,359.2 L1396.0,359.3 L1397.5,359.4 L1399.0,359.6 L1400.5,359.7 L1402.0,359.8 L1403.5,360.0 L1405.0,360.1 L1406.5,360.2 L1408.0,360.3 L1409.5,360.4 L1411.0,360.5 L1412.5,360.6 L1414.0,360.6 L1415.5,360.7 L1417.0,360.7 L1418.5,360.7 L1420.0,360.7 L1421.5,360.6 L1423.0,360.6 L1424.5,360.5 L1426.0,360.5 L1427.5,360.4 L1429.0,360.3 L1430.5,360.2 L1432.0,360.1 L1433.5,360.0 L1435.0,359.9 L1436.5,359.8 L1438.0,359.7 L1439.5,359.6 L1441.0,359.5 L1442.5,359.4 L1444.0,359.3 L1445.5,359.3 L1447.0,359.2 L1448.5,359.2 L1450.0,359.1 L1451.5,359.1 L1453.0,359.1 L1454.5,359.1 L1456.0,359.2 L1457.5,359.2 L1459.0,359.3 L1460.5,359.3 L1462.0,359.4 L1463.5,359.5 L1465.0,359.6 L1466.5,359.7 L1468.0,359.8 L1469.5,359.9 L1471.0,360.0 L1472.5,360.1 L1474.0,360.2 L1475.5,360.3 L1477.0,360.4 L1478.5,360.5 L1480.0,360.5 L1481.5,360.6 L1483.0,360.6 L1484.5,360.7 L1486.0,360.7 L1487.5,360.7 L1489.0,360.7 L1490.5,360.7 L1492.0,360.7 L1493.5,360.7 L1495.0,360.7 L1496.5,360.7 L1498.0,360.7 L1499.5,360.7 L1501.0,360.7 L1502.5,360.7 L1504.0,360.7 L1505.5,360.7 L1507.0,360.7 L1508.5,360.7 L1510.0,360.7 L1511.5,360.7 L1513.0,360.6 L1514.5,360.6 L1516.0,360.6 L1517.5,360.6 L1519.0,360.6 L1520.5,360.6 L1522.0,360.6 L1523.5,360.6 L1525.0,360.5 L1526.5,360.5 L1528.0,360.5 L1529.5,360.5 L1531.0,360.5 L1532.5,360.4 L1534.0,360.4 L1535.5,360.4 L1537.0,360.3 L1538.5,360.3 L1540.0,360.3 L1541.5,360.2 L1543.0,360.2"/><use href="#c3" transform="translate(1,0)"/></g>
<g clip-path="url(#ca)" fill="none" stroke="#008000" stroke-width="5.4" stroke-linejoin="round"><path id="c4" transform="translate(-0.5,0)" d="M218.5,117.3 L220.0,118.3 L221.5,119.1 L223.0,119.8 L224.5,120.3 L226.0,120.6 L227.5,120.7 L229.0,120.6 L230.5,120.4 L232.0,120.2 L233.5,120.1 L235.0,120.2 L236.5,120.3 L238.0,120.5 L239.5,120.8 L241.0,121.1 L242.5,121.4 L244.0,122.1 L245.5,123.1 L247.0,124.3 L248.5,125.3 L250.0,126.1 L251.5,126.5 L253.0,126.8 L254.5,126.9 L256.0,127.0 L257.5,126.8 L259.0,126.4 L260.5,125.8 L262.0,125.2 L263.5,124.5 L265.0,123.8 L266.5,122.9 L268.0,122.1 L269.5,121.4 L271.0,120.9 L272.5,120.5 L274.0,120.1 L275.5,119.7 L277.0,119.3 L278.5,118.8 L280.0,118.2 L281.5,117.4 L283.0,116.6 L284.5,115.7 L286.0,114.7 L287.5,113.7 L289.0,112.6 L290.5,111.2 L292.0,109.8 L293.5,108.6 L295.0,107.7 L296.5,107.5 L298.0,107.9 L299.5,108.5 L301.0,109.1 L302.5,109.9 L304.0,110.7 L305.5,111.5 L307.0,112.2 L308.5,112.9 L310.0,113.5 L311.5,114.2 L313.0,114.7 L314.5,115.0 L316.0,115.0 L317.5,115.0 L319.0,115.0 L320.5,115.0 L322.0,115.0 L323.5,115.1 L325.0,115.5 L326.5,116.1 L328.0,116.6 L329.5,116.7 L331.0,116.8 L332.5,116.9 L334.0,116.9 L335.5,116.9 L337.0,116.4 L338.5,115.5 L340.0,114.3 L341.5,113.1 L343.0,111.6 L344.5,109.8 L346.0,107.9 L347.5,106.0 L349.0,104.0 L350.5,102.0 L352.0,100.4 L353.5,99.8 L355.0,99.5 L356.5,99.3 L358.0,99.4 L359.5,100.6 L361.0,102.2 L362.5,103.9 L364.0,105.3 L365.5,106.8 L367.0,108.3 L368.5,109.6 L370.0,110.4 L371.5,110.8 L373.0,111.0 L374.5,111.2 L376.0,111.3 L377.5,111.4 L379.0,111.6 L380.5,111.9 L382.0,112.4 L383.5,113.4 L385.0,114.5 L386.5,115.7 L388.0,116.8 L389.5,117.9 L391.0,119.1 L392.5,120.2 L394.0,121.3 L395.5,122.1 L397.0,122.6 L398.5,122.9 L400.0,123.0 L401.5,123.2 L403.0,123.3 L404.5,123.4 L406.0,123.6 L407.5,123.9 L409.0,124.5 L410.5,125.2 L412.0,126.1 L413.5,127.1 L415.0,128.4 L416.5,130.1 L418.0,131.9 L419.5,133.7 L421.0,135.4 L422.5,137.0 L424.0,138.7 L425.5,140.3 L427.0,141.8 L428.5,143.4 L430.0,145.0 L431.5,146.5 L433.0,148.0 L434.5,149.5 L436.0,151.0 L437.5,152.5 L439.0,153.9 L440.5,155.3 L442.0,156.7 L443.5,158.0 L445.0,159.4 L446.5,160.6 L448.0,161.8 L449.5,162.9 L451.0,163.9 L452.5,164.8 L454.0,165.7 L455.5,166.6 L457.0,167.6 L458.5,168.6 L460.0,169.7 L461.5,170.8 L463.0,172.0 L464.5,173.2 L466.0,174.6 L467.5,176.2 L469.0,178.0 L470.5,180.3 L472.0,183.1 L473.5,186.1 L475.0,189.1 L476.5,191.9 L478.0,194.7 L479.5,197.4 L481.0,200.1 L482.5,202.8 L484.0,205.6 L485.5,208.3 L487.0,211.1 L488.5,213.9 L490.0,216.7 L491.5,219.5 L493.0,222.3 L494.5,225.1 L496.0,227.9 L497.5,230.6 L499.0,233.3 L500.5,235.8 L502.0,238.3 L503.5,240.8 L505.0,243.2 L506.5,245.5 L508.0,247.7 L509.5,249.7 L511.0,251.6 L512.5,253.5 L514.0,255.3 L515.5,257.0 L517.0,258.7 L518.5,260.3 L520.0,261.8 L521.5,263.3 L523.0,264.7 L524.5,266.1 L526.0,267.5 L527.5,268.7 L529.0,269.9 L530.5,271.0 L532.0,272.1 L533.5,273.2 L535.0,274.2 L536.5,275.2 L538.0,276.1 L539.5,276.9 L541.0,277.7 L542.5,278.3 L544.0,278.9 L545.5,279.4 L547.0,279.9 L548.5,280.3 L550.0,280.8 L551.5,281.2 L553.0,281.5 L554.5,281.9 L556.0,282.3 L557.5,282.8 L559.0,283.3 L560.5,283.8 L562.0,284.3 L563.5,284.7 L565.0,285.1 L566.5,285.3 L568.0,285.4 L569.5,285.4 L571.0,285.4 L572.5,285.4 L574.0,285.4 L575.5,285.4 L577.0,285.4 L578.5,285.4 L580.0,285.4 L581.5,285.4 L583.0,285.3 L584.5,285.2 L586.0,285.0 L587.5,284.8 L589.0,284.7 L590.5,284.5 L592.0,284.4 L593.5,284.4 L595.0,284.5 L596.5,284.6 L598.0,284.8 L599.5,285.0 L601.0,285.2 L602.5,285.5 L604.0,285.7 L605.5,285.8 L607.0,286.0 L608.5,286.0 L610.0,286.0 L611.5,286.0 L613.0,286.0 L614.5,286.0 L616.0,286.0 L617.5,286.0 L619.0,286.0 L620.5,286.0 L622.0,286.0 L623.5,286.0 L625.0,286.0 L626.5,285.9 L628.0,285.7 L629.5,285.6 L631.0,285.4 L632.5,285.2 L634.0,285.1 L635.5,284.9 L637.0,284.8 L638.5,284.8 L640.0,284.8 L641.5,284.8 L643.0,284.8 L644.5,284.9 L646.0,284.9 L647.5,284.9 L649.0,285.0 L650.5,285.0 L652.0,285.0 L653.5,285.1 L655.0,285.1 L656.5,285.1 L658.0,285.2 L659.5,285.2 L661.0,285.2 L662.5,285.2 L664.0,285.2 L665.5,285.1 L667.0,285.1 L668.5,285.0 L670.0,284.9 L671.5,284.8 L673.0,284.7 L674.5,284.6 L676.0,284.4 L677.5,284.3 L679.0,284.2 L680.5,284.1 L682.0,284.0 L683.5,283.9 L685.0,283.8 L686.5,283.7 L688.0,283.7 L689.5,283.7 L691.0,283.7 L692.5,283.7 L694.0,283.6 L695.5,283.6 L697.0,283.6 L698.5,283.6 L700.0,283.6 L701.5,283.6 L703.0,283.6 L704.5,283.6 L706.0,283.6 L707.5,283.6 L709.0,283.6 L710.5,283.6 L712.0,283.6 L713.5,283.6 L715.0,283.6 L716.5,283.5 L718.0,283.5 L719.5,283.5 L721.0,283.5 L722.5,283.5 L724.0,283.5 L725.5,283.5 L727.0,283.4 L728.5,283.4 L730.0,283.3 L731.5,283.3 L733.0,283.2 L734.5,283.2 L736.0,283.1 L737.5,283.1 L739.0,283.0 L740.5,282.9 L742.0,282.8 L743.5,282.8 L745.0,282.7 L746.5,282.6 L748.0,282.5 L749.5,282.5 L751.0,282.4 L752.5,282.3 L754.0,282.2 L755.5,282.1 L757.0,282.1 L758.5,282.0 L760.0,281.9 L761.5,281.8 L763.0,281.7 L764.5,281.6 L766.0,281.5 L767.5,281.4 L769.0,281.3 L770.5,281.2 L772.0,281.1 L773.5,281.0 L775.0,280.9 L776.5,280.8 L778.0,280.7 L779.5,280.6 L781.0,280.4 L782.5,280.3 L784.0,280.2 L785.5,280.1 L787.0,279.9 L788.5,279.8 L790.0,279.6 L791.5,279.5 L793.0,279.4 L794.5,279.2 L796.0,279.0 L797.5,278.9 L799.0,278.7 L800.5,278.6 L802.0,278.4 L803.5,278.2 L805.0,278.1 L806.5,277.9 L808.0,277.7 L809.5,277.6 L811.0,277.4 L812.5,277.2 L814.0,277.1 L815.5,276.9 L817.0,276.7 L818.5,276.5 L820.0,276.3 L821.5,276.2 L823.0,276.0 L824.5,275.8 L826.0,275.6 L827.5,275.4 L829.0,275.2 L830.5,275.0 L832.0,274.9 L833.5,274.7 L835.0,274.5 L836.5,274.3 L838.0,274.2 L839.5,274.0 L841.0,273.8 L842.5,273.7 L844.0,273.5 L845.5,273.3 L847.0,273.2 L848.5,273.0 L850.0,272.9 L851.5,272.7 L853.0,272.5 L854.5,272.4 L856.0,272.2 L857.5,272.1 L859.0,271.9 L860.5,271.8 L862.0,271.7 L863.5,271.5 L865.0,271.4 L866.5,271.3 L868.0,271.2 L869.5,271.1 L871.0,271.0 L872.5,270.8 L874.0,270.7 L875.5,270.6 L877.0,270.5 L878.5,270.4 L880.0,270.3 L881.5,270.2 L883.0,270.1 L884.5,270.0 L886.0,269.9 L887.5,269.8 L889.0,269.8 L890.5,269.7 L892.0,269.6 L893.5,269.6 L895.0,269.5 L896.5,269.5 L898.0,269.4 L899.5,269.4 L901.0,269.4 L902.5,269.3 L904.0,269.3 L905.5,269.2 L907.0,269.2 L908.5,269.2 L910.0,269.1 L911.5,269.1 L913.0,269.1 L914.5,269.1 L916.0,269.0 L917.5,269.0 L919.0,269.0 L920.5,269.0 L922.0,268.9 L923.5,268.9 L925.0,268.9 L926.5,268.9 L928.0,268.9 L929.5,268.9 L931.0,268.9 L932.5,268.9 L934.0,268.9 L935.5,269.0 L937.0,269.0 L938.5,269.0 L940.0,269.1 L941.5,269.1 L943.0,269.2 L944.5,269.3 L946.0,269.3 L947.5,269.4 L949.0,269.5 L950.5,269.6 L952.0,269.6 L953.5,269.7 L955.0,269.8 L956.5,269.9 L958.0,270.0 L959.5,270.1 L961.0,270.2 L962.5,270.3 L964.0,270.4 L965.5,270.5 L967.0,270.7 L968.5,270.8 L970.0,271.0 L971.5,271.1 L973.0,271.3 L974.5,271.4 L976.0,271.6 L977.5,271.8 L979.0,271.9 L980.5,272.1 L982.0,272.3 L983.5,272.4 L985.0,272.6 L986.5,272.8 L988.0,272.9 L989.5,273.1 L991.0,273.3 L992.5,273.5 L994.0,273.7 L995.5,273.8 L997.0,274.0 L998.5,274.2 L1000.0,274.4 L1001.5,274.6 L1003.0,274.8 L1004.5,275.0 L1006.0,275.2 L1007.5,275.4 L1009.0,275.6 L1010.5,275.8 L1012.0,276.0 L1013.5,276.2 L1015.0,276.4 L1016.5,276.6 L1018.0,276.9 L1019.5,277.1 L1021.0,277.3 L1022.5,277.5 L1024.0,277.8 L1025.5,278.0 L1027.0,278.2 L1028.5,278.5 L1030.0,278.7 L1031.5,279.0 L1033.0,279.2 L1034.5,279.4 L1036.0,279.7 L1037.5,279.9 L1039.0,280.2 L1040.5,280.4 L1042.0,280.7 L1043.5,280.9 L1045.0,281.2 L1046.5,281.4 L1048.0,281.7 L1049.5,281.9 L1051.0,282.1 L1052.5,282.4 L1054.0,282.6 L1055.5,282.8 L1057.0,283.1 L1058.5,283.3 L1060.0,283.5 L1061.5,283.8 L1063.0,284.0 L1064.5,284.2 L1066.0,284.4 L1067.5,284.7 L1069.0,284.9 L1070.5,285.1 L1072.0,285.3 L1073.5,285.6 L1075.0,285.8 L1076.5,286.0 L1078.0,286.2 L1079.5,286.5 L1081.0,286.7 L1082.5,286.9 L1084.0,287.1 L1085.5,287.4 L1087.0,287.6 L1088.5,287.8 L1090.0,288.0 L1091.5,288.3 L1093.0,288.5 L1094.5,288.7 L1096.0,289.0 L1097.5,289.2 L1099.0,289.4 L1100.5,289.6 L1102.0,289.9 L1103.5,290.1 L1105.0,290.3 L1106.5,290.6 L1108.0,290.8 L1109.5,291.0 L1111.0,291.2 L1112.5,291.5 L1114.0,291.7 L1115.5,291.9 L1117.0,292.2 L1118.5,292.4 L1120.0,292.6 L1121.5,292.8 L1123.0,293.0 L1124.5,293.3 L1126.0,293.5 L1127.5,293.7 L1129.0,293.9 L1130.5,294.1 L1132.0,294.4 L1133.5,294.6 L1135.0,294.8 L1136.5,295.0 L1138.0,295.2 L1139.5,295.5 L1141.0,295.7 L1142.5,295.9 L1144.0,296.1 L1145.5,296.3 L1147.0,296.6 L1148.5,296.8 L1150.0,297.0 L1151.5,297.2 L1153.0,297.4 L1154.5,297.6 L1156.0,297.8 L1157.5,298.0 L1159.0,298.2 L1160.5,298.4 L1162.0,298.6 L1163.5,298.8 L1165.0,299.0 L1166.5,299.2 L1168.0,299.4 L1169.5,299.6 L1171.0,299.7 L1172.5,299.9 L1174.0,300.1 L1175.5,300.3 L1177.0,300.4 L1178.5,300.6 L1180.0,300.8 L1181.5,300.9 L1183.0,301.1 L1184.5,301.3 L1186.0,301.4 L1187.5,301.6 L1189.0,301.8 L1190.5,301.9 L1192.0,302.1 L1193.5,302.2 L1195.0,302.4 L1196.5,302.5 L1198.0,302.7 L1199.5,302.8 L1201.0,303.0 L1202.5,303.1 L1204.0,303.3 L1205.5,303.4 L1207.0,303.5 L1208.5,303.7 L1210.0,303.8 L1211.5,303.9 L1213.0,304.1 L1214.5,304.2 L1216.0,304.3 L1217.5,304.4 L1219.0,304.6 L1220.5,304.7 L1222.0,304.8 L1223.5,304.9 L1225.0,305.0 L1226.5,305.1 L1228.0,305.3 L1229.5,305.4 L1231.0,305.5 L1232.5,305.6 L1234.0,305.8 L1235.5,305.9 L1237.0,306.0 L1238.5,306.2 L1240.0,306.3 L1241.5,306.4 L1243.0,306.6 L1244.5,306.8 L1246.0,306.9 L1247.5,307.1 L1249.0,307.2 L1250.5,307.4 L1252.0,307.6 L1253.5,307.8 L1255.0,307.9 L1256.5,308.1 L1258.0,308.3 L1259.5,308.4 L1261.0,308.6 L1262.5,308.7 L1264.0,308.9 L1265.5,309.0 L1267.0,309.2 L1268.5,309.3 L1270.0,309.4 L1271.5,309.6 L1273.0,309.7 L1274.5,309.8 L1276.0,309.9 L1277.5,310.1 L1279.0,310.2 L1280.5,310.3 L1282.0,310.5 L1283.5,310.6 L1285.0,310.7 L1286.5,310.8 L1288.0,311.0 L1289.5,311.1 L1291.0,311.2 L1292.5,311.3 L1294.0,311.4 L1295.5,311.5 L1297.0,311.6 L1298.5,311.7 L1300.0,311.8 L1301.5,311.9 L1303.0,312.0 L1304.5,312.1 L1306.0,312.2 L1307.5,312.3 L1309.0,312.4 L1310.5,312.5 L1312.0,312.6 L1313.5,312.6 L1315.0,312.7 L1316.5,312.8 L1318.0,312.8 L1319.5,312.9 L1321.0,313.0 L1322.5,313.1 L1324.0,313.1 L1325.5,313.2 L1327.0,313.2 L1328.5,313.3 L1330.0,313.4 L1331.5,313.4 L1333.0,313.5 L1334.5,313.6 L1336.0,313.6 L1337.5,313.7 L1339.0,313.7 L1340.5,313.8 L1342.0,313.8 L1343.5,313.9 L1345.0,313.9 L1346.5,314.0 L1348.0,314.0 L1349.5,314.1 L1351.0,314.1 L1352.5,314.1 L1354.0,314.2 L1355.5,314.2 L1357.0,314.2 L1358.5,314.3 L1360.0,314.3 L1361.5,314.3 L1363.0,314.4 L1364.5,314.4 L1366.0,314.4 L1367.5,314.5 L1369.0,314.5 L1370.5,314.5 L1372.0,314.5 L1373.5,314.6 L1375.0,314.6 L1376.5,314.6 L1378.0,314.6 L1379.5,314.7 L1381.0,314.7 L1382.5,314.7 L1384.0,314.7 L1385.5,314.8 L1387.0,314.8 L1388.5,314.8 L1390.0,314.8 L1391.5,314.8 L1393.0,314.9 L1394.5,314.9 L1396.0,314.9 L1397.5,314.9 L1399.0,314.9 L1400.5,314.9 L1402.0,315.0 L1403.5,315.0 L1405.0,315.0 L1406.5,315.0 L1408.0,315.0 L1409.5,315.0 L1411.0,315.1 L1412.5,315.1 L1414.0,315.1 L1415.5,315.1 L1417.0,315.1 L1418.5,315.1 L1420.0,315.1 L1421.5,315.1 L1423.0,315.1 L1424.5,315.2 L1426.0,315.2 L1427.5,315.2 L1429.0,315.2 L1430.5,315.2 L1432.0,315.2 L1433.5,315.2 L1435.0,315.2 L1436.5,315.2 L1438.0,315.3 L1439.5,315.3 L1441.0,315.3 L1442.5,315.3 L1444.0,315.3 L1445.5,315.3 L1447.0,315.3 L1448.5,315.4 L1450.0,315.4 L1451.5,315.4 L1453.0,315.4 L1454.5,315.4 L1456.0,315.5 L1457.5,315.5 L1459.0,315.5 L1460.5,315.6 L1462.0,315.6 L1463.5,315.7 L1465.0,315.7 L1466.5,315.8 L1468.0,315.9 L1469.5,315.9 L1471.0,316.0 L1472.5,316.1 L1474.0,316.1 L1475.5,316.2 L1477.0,316.2 L1478.5,316.3 L1480.0,316.4 L1481.5,316.4 L1483.0,316.5 L1484.5,316.5 L1486.0,316.6 L1487.5,316.6 L1489.0,316.7 L1490.5,316.7 L1492.0,316.7 L1493.5,316.8 L1495.0,316.8 L1496.5,316.8 L1498.0,316.8 L1499.5,316.8 L1501.0,316.8 L1502.5,316.8 L1504.0,316.8 L1505.5,316.8 L1507.0,316.7 L1508.5,316.7 L1510.0,316.7 L1511.5,316.6 L1513.0,316.6 L1514.5,316.5 L1516.0,316.5 L1517.5,316.4 L1519.0,316.4 L1520.5,316.3 L1522.0,316.3 L1523.5,316.2 L1525.0,316.1 L1526.5,316.1 L1528.0,316.0 L1529.5,315.9 L1531.0,315.8 L1532.5,315.7 L1534.0,315.6 L1535.5,315.5 L1537.0,315.4 L1538.5,315.3 L1540.0,315.2 L1541.5,315.1 L1543.0,315.0"/><use href="#c4" transform="translate(1,0)"/></g>
<g clip-path="url(#ca)" fill="none" stroke="#ff00ff" stroke-width="5.4" stroke-linejoin="round"><path id="c5" transform="translate(-0.5,0)" d="M218.5,69.3 L220.0,69.9 L221.5,70.2 L223.0,70.3 L224.5,70.3 L226.0,69.9 L227.5,69.0 L229.0,67.6 L230.5,66.0 L232.0,64.2 L233.5,62.6 L235.0,60.6 L236.5,58.2 L238.0,55.9 L239.5,53.9 L241.0,52.6 L242.5,51.6 L244.0,50.8 L245.5,50.2 L247.0,50.0 L248.5,50.3 L250.0,51.1 L251.5,52.2 L253.0,53.2 L254.5,54.1 L256.0,55.1 L257.5,55.9 L259.0,56.1 L260.5,56.1 L262.0,56.1 L263.5,56.0 L265.0,55.9 L266.5,55.8 L268.0,55.0 L269.5,53.7 L271.0,52.2 L272.5,50.9 L274.0,50.0 L275.5,49.3 L277.0,48.7 L278.5,48.2 L280.0,47.9 L281.5,48.0 L283.0,48.2 L284.5,48.6 L286.0,49.1 L287.5,49.6 L289.0,50.5 L290.5,51.8 L292.0,53.2 L293.5,54.5 L295.0,55.2 L296.5,55.6 L298.0,55.9 L299.5,56.1 L301.0,56.0 L302.5,55.4 L304.0,54.5 L305.5,53.5 L307.0,52.6 L308.5,51.9 L310.0,51.5 L311.5,51.0 L313.0,50.7 L314.5,50.5 L316.0,50.5 L317.5,50.5 L319.0,50.6 L320.5,50.7 L322.0,50.8 L323.5,50.9 L325.0,51.5 L326.5,52.3 L328.0,53.1 L329.5,53.6 L331.0,53.7 L332.5,53.6 L334.0,53.4 L335.5,53.2 L337.0,53.0 L338.5,52.8 L340.0,52.6 L341.5,52.3 L343.0,52.1 L344.5,51.8 L346.0,51.4 L347.5,50.8 L349.0,50.0 L350.5,49.0 L352.0,48.2 L353.5,47.5 L355.0,46.8 L356.5,46.4 L358.0,46.2 L359.5,46.0 L361.0,45.9 L362.5,45.8 L364.0,45.8 L365.5,45.9 L367.0,46.1 L368.5,46.3 L370.0,46.5 L371.5,46.8 L373.0,47.1 L374.5,47.5 L376.0,47.9 L377.5,48.4 L379.0,48.8 L380.5,49.2 L382.0,49.4 L383.5,49.7 L385.0,49.9 L386.5,50.2 L388.0,50.6 L389.5,51.0 L391.0,51.7 L392.5,52.4 L394.0,53.2 L395.5,54.2 L397.0,55.4 L398.5,56.8 L400.0,58.0 L401.5,58.8 L403.0,59.3 L404.5,59.8 L406.0,60.2 L407.5,60.7 L409.0,61.3 L410.5,62.0 L412.0,63.0 L413.5,64.1 L415.0,65.3 L416.5,66.7 L418.0,68.0 L419.5,69.6 L421.0,71.3 L422.5,73.1 L424.0,75.1 L425.5,77.5 L427.0,79.9 L428.5,81.8 L430.0,83.2 L431.5,84.4 L433.0,85.4 L434.5,86.4 L436.0,87.4 L437.5,88.3 L439.0,89.0 L440.5,89.8 L442.0,90.5 L443.5,91.3 L445.0,92.3 L446.5,93.4 L448.0,94.8 L449.5,96.5 L451.0,98.4 L452.5,100.3 L454.0,102.2 L455.5,103.9 L457.0,105.6 L458.5,107.3 L460.0,109.0 L461.5,110.8 L463.0,112.7 L464.5,114.7 L466.0,116.9 L467.5,119.0 L469.0,121.1 L470.5,123.2 L472.0,125.2 L473.5,127.3 L475.0,129.2 L476.5,131.2 L478.0,133.0 L479.5,134.8 L481.0,136.6 L482.5,138.4 L484.0,140.3 L485.5,142.2 L487.0,144.2 L488.5,146.2 L490.0,148.2 L491.5,150.3 L493.0,152.3 L494.5,154.3 L496.0,156.4 L497.5,158.4 L499.0,160.6 L500.5,162.7 L502.0,165.1 L503.5,167.6 L505.0,170.1 L506.5,172.6 L508.0,174.9 L509.5,177.1 L511.0,179.0 L512.5,180.7 L514.0,182.4 L515.5,183.9 L517.0,185.4 L518.5,186.9 L520.0,188.3 L521.5,189.7 L523.0,191.0 L524.5,192.2 L526.0,193.4 L527.5,194.5 L529.0,195.6 L530.5,196.7 L532.0,197.7 L533.5,198.6 L535.0,199.4 L536.5,200.3 L538.0,201.1 L539.5,201.8 L541.0,202.5 L542.5,203.1 L544.0,203.6 L545.5,204.0 L547.0,204.4 L548.5,204.8 L550.0,205.1 L551.5,205.5 L553.0,205.8 L554.5,206.2 L556.0,206.5 L557.5,206.9 L559.0,207.3 L560.5,207.6 L562.0,208.0 L563.5,208.4 L565.0,208.8 L566.5,209.1 L568.0,209.6 L569.5,210.0 L571.0,210.4 L572.5,210.8 L574.0,211.0 L575.5,211.0 L577.0,211.1 L578.5,211.1 L580.0,211.1 L581.5,211.2 L583.0,211.2 L584.5,211.2 L586.0,211.2 L587.5,211.3 L589.0,211.3 L590.5,211.5 L592.0,211.7 L593.5,211.9 L595.0,212.1 L596.5,212.4 L598.0,212.6 L599.5,212.9 L601.0,213.0 L602.5,213.2 L604.0,213.3 L605.5,213.5 L607.0,213.6 L608.5,213.7 L610.0,213.9 L611.5,214.0 L613.0,214.1 L614.5,214.2 L616.0,214.2 L617.5,214.3 L619.0,214.3 L620.5,214.3 L622.0,214.3 L623.5,214.4 L625.0,214.4 L626.5,214.4 L628.0,214.4 L629.5,214.4 L631.0,214.4 L632.5,214.4 L634.0,214.4 L635.5,214.5 L637.0,214.5 L638.5,214.5 L640.0,214.5 L641.5,214.5 L643.0,214.5 L644.5,214.5 L646.0,214.5 L647.5,214.5 L649.0,214.5 L650.5,214.5 L652.0,214.5 L653.5,214.6 L655.0,214.6 L656.5,214.6 L658.0,214.6 L659.5,214.6 L661.0,214.6 L662.5,214.6 L664.0,214.6 L665.5,214.6 L667.0,214.6 L668.5,214.6 L670.0,214.6 L671.5,214.6 L673.0,214.6 L674.5,214.6 L676.0,214.6 L677.5,214.6 L679.0,214.6 L680.5,214.6 L682.0,214.6 L683.5,214.6 L685.0,214.6 L686.5,214.6 L688.0,214.6 L689.5,214.6 L691.0,214.6 L692.5,214.5 L694.0,214.5 L695.5,214.4 L697.0,214.3 L698.5,214.2 L700.0,214.1 L701.5,214.0 L703.0,213.9 L704.5,213.8 L706.0,213.6 L707.5,213.5 L709.0,213.4 L710.5,213.3 L712.0,213.2 L713.5,213.1 L715.0,213.0 L716.5,212.9 L718.0,212.8 L719.5,212.8 L721.0,212.7 L722.5,212.6 L724.0,212.6 L725.5,212.5 L727.0,212.5 L728.5,212.4 L730.0,212.4 L731.5,212.3 L733.0,212.2 L734.5,212.2 L736.0,212.1 L737.5,212.1 L739.0,212.0 L740.5,212.0 L742.0,211.9 L743.5,211.9 L745.0,211.8 L746.5,211.8 L748.0,211.7 L749.5,211.6 L751.0,211.6 L752.5,211.5 L754.0,211.4 L755.5,211.3 L757.0,211.3 L758.5,211.2 L760.0,211.1 L761.5,211.0 L763.0,210.9 L764.5,210.9 L766.0,210.8 L767.5,210.7 L769.0,210.6 L770.5,210.5 L772.0,210.4 L773.5,210.3 L775.0,210.1 L776.5,210.0 L778.0,209.9 L779.5,209.8 L781.0,209.7 L782.5,209.5 L784.0,209.4 L785.5,209.2 L787.0,209.0 L788.5,208.9 L790.0,208.7 L791.5,208.4 L793.0,208.2 L794.5,208.0 L796.0,207.8 L797.5,207.5 L799.0,207.3 L800.5,207.0 L802.0,206.8 L803.5,206.5 L805.0,206.3 L806.5,206.0 L808.0,205.8 L809.5,205.5 L811.0,205.3 L812.5,205.1 L814.0,204.8 L815.5,204.6 L817.0,204.3 L818.5,204.1 L820.0,203.8 L821.5,203.6 L823.0,203.3 L824.5,203.1 L826.0,202.8 L827.5,202.6 L829.0,202.3 L830.5,202.1 L832.0,201.8 L833.5,201.6 L835.0,201.3 L836.5,201.1 L838.0,200.8 L839.5,200.6 L841.0,200.3 L842.5,200.1 L844.0,199.9 L845.5,199.6 L847.0,199.4 L848.5,199.2 L850.0,198.9 L851.5,198.7 L853.0,198.4 L854.5,198.2 L856.0,198.0 L857.5,197.8 L859.0,197.5 L860.5,197.3 L862.0,197.1 L863.5,196.9 L865.0,196.7 L866.5,196.5 L868.0,196.3 L869.5,196.1 L871.0,195.8 L872.5,195.6 L874.0,195.4 L875.5,195.2 L877.0,195.0 L878.5,194.8 L880.0,194.6 L881.5,194.4 L883.0,194.2 L884.5,194.0 L886.0,193.8 L887.5,193.6 L889.0,193.5 L890.5,193.3 L892.0,193.2 L893.5,193.1 L895.0,193.0 L896.5,193.0 L898.0,192.9 L899.5,192.9 L901.0,192.8 L902.5,192.8 L904.0,192.7 L905.5,192.7 L907.0,192.7 L908.5,192.6 L910.0,192.6 L911.5,192.6 L913.0,192.5 L914.5,192.5 L916.0,192.5 L917.5,192.5 L919.0,192.5 L920.5,192.4 L922.0,192.4 L923.5,192.4 L925.0,192.4 L926.5,192.4 L928.0,192.4 L929.5,192.4 L931.0,192.3 L932.5,192.3 L934.0,192.3 L935.5,192.3 L937.0,192.3 L938.5,192.3 L940.0,192.3 L941.5,192.3 L943.0,192.3 L944.5,192.3 L946.0,192.3 L947.5,192.4 L949.0,192.4 L950.5,192.5 L952.0,192.6 L953.5,192.7 L955.0,192.8 L956.5,192.8 L958.0,192.9 L959.5,193.0 L961.0,193.1 L962.5,193.3 L964.0,193.4 L965.5,193.6 L967.0,193.7 L968.5,193.9 L970.0,194.1 L971.5,194.2 L973.0,194.4 L974.5,194.6 L976.0,194.8 L977.5,195.0 L979.0,195.2 L980.5,195.4 L982.0,195.6 L983.5,195.8 L985.0,196.0 L986.5,196.2 L988.0,196.4 L989.5,196.6 L991.0,196.7 L992.5,196.9 L994.0,197.1 L995.5,197.3 L997.0,197.4 L998.5,197.6 L1000.0,197.8 L1001.5,197.9 L1003.0,198.1 L1004.5,198.3 L1006.0,198.5 L1007.5,198.6 L1009.0,198.8 L1010.5,199.0 L1012.0,199.2 L1013.5,199.4 L1015.0,199.6 L1016.5,199.8 L1018.0,200.0 L1019.5,200.2 L1021.0,200.4 L1022.5,200.6 L1024.0,200.8 L1025.5,201.1 L1027.0,201.3 L1028.5,201.6 L1030.0,201.8 L1031.5,202.1 L1033.0,202.4 L1034.5,202.7 L1036.0,203.0 L1037.5,203.3 L1039.0,203.7 L1040.5,204.0 L1042.0,204.3 L1043.5,204.6 L1045.0,205.0 L1046.5,205.3 L1048.0,205.7 L1049.5,206.0 L1051.0,206.3 L1052.5,206.7 L1054.0,207.0 L1055.5,207.4 L1057.0,207.7 L1058.5,208.0 L1060.0,208.3 L1061.5,208.7 L1063.0,209.0 L1064.5,209.3 L1066.0,209.6 L1067.5,209.9 L1069.0,210.2 L1070.5,210.5 L1072.0,210.8 L1073.5,211.1 L1075.0,211.4 L1076.5,211.7 L1078.0,212.0 L1079.5,212.3 L1081.0,212.6 L1082.5,212.9 L1084.0,213.2 L1085.5,213.5 L1087.0,213.8 L1088.5,214.1 L1090.0,214.4 L1091.5,214.7 L1093.0,215.0 L1094.5,215.3 L1096.0,215.6 L1097.5,215.9 L1099.0,216.2 L1100.5,216.5 L1102.0,216.8 L1103.5,217.1 L1105.0,217.4 L1106.5,217.8 L1108.0,218.1 L1109.5,218.4 L1111.0,218.7 L1112.5,219.1 L1114.0,219.4 L1115.5,219.7 L1117.0,220.0 L1118.5,220.4 L1120.0,220.7 L1121.5,221.0 L1123.0,221.4 L1124.5,221.7 L1126.0,222.0 L1127.5,222.3 L1129.0,222.7 L1130.5,223.0 L1132.0,223.3 L1133.5,223.6 L1135.0,223.9 L1136.5,224.2 L1138.0,224.6 L1139.5,224.9 L1141.0,225.2 L1142.5,225.5 L1144.0,225.8 L1145.5,226.1 L1147.0,226.4 L1148.5,226.7 L1150.0,227.0 L1151.5,227.3 L1153.0,227.6 L1154.5,227.9 L1156.0,228.2 L1157.5,228.5 L1159.0,228.8 L1160.5,229.1 L1162.0,229.4 L1163.5,229.7 L1165.0,230.0 L1166.5,230.3 L1168.0,230.6 L1169.5,230.9 L1171.0,231.2 L1172.5,231.4 L1174.0,231.7 L1175.5,232.0 L1177.0,232.3 L1178.5,232.6 L1180.0,232.8 L1181.5,233.1 L1183.0,233.4 L1184.5,233.7 L1186.0,233.9 L1187.5,234.2 L1189.0,234.5 L1190.5,234.8 L1192.0,235.0 L1193.5,235.3 L1195.0,235.6 L1196.5,235.8 L1198.0,236.1 L1199.5,236.3 L1201.0,236.6 L1202.5,236.8 L1204.0,237.1 L1205.5,237.4 L1207.0,237.6 L1208.5,237.8 L1210.0,238.1 L1211.5,238.3 L1213.0,238.6 L1214.5,238.8 L1216.0,239.0 L1217.5,239.3 L1219.0,239.5 L1220.5,239.7 L1222.0,239.9 L1223.5,240.2 L1225.0,240.4 L1226.5,240.6 L1228.0,240.8 L1229.5,241.0 L1231.0,241.2 L1232.5,241.4 L1234.0,241.6 L1235.5,241.9 L1237.0,242.1 L1238.5,242.3 L1240.0,242.5 L1241.5,242.7 L1243.0,242.9 L1244.5,243.2 L1246.0,243.4 L1247.5,243.6 L1249.0,243.9 L1250.5,244.1 L1252.0,244.3 L1253.5,244.6 L1255.0,244.8 L1256.5,245.0 L1258.0,245.3 L1259.5,245.5 L1261.0,245.7 L1262.5,245.9 L1264.0,246.1 L1265.5,246.3 L1267.0,246.5 L1268.5,246.7 L1270.0,246.8 L1271.5,247.0 L1273.0,247.2 L1274.5,247.3 L1276.0,247.5 L1277.5,247.7 L1279.0,247.8 L1280.5,248.0 L1282.0,248.1 L1283.5,248.3 L1285.0,248.4 L1286.5,248.6 L1288.0,248.7 L1289.5,248.9 L1291.0,249.0 L1292.5,249.2 L1294.0,249.3 L1295.5,249.4 L1297.0,249.6 L1298.5,249.7 L1300.0,249.9 L1301.5,250.0 L1303.0,250.1 L1304.5,250.3 L1306.0,250.4 L1307.5,250.6 L1309.0,250.7 L1310.5,250.9 L1312.0,251.0 L1313.5,251.2 L1315.0,251.3 L1316.5,251.5 L1318.0,251.6 L1319.5,251.8 L1321.0,252.0 L1322.5,252.1 L1324.0,252.3 L1325.5,252.5 L1327.0,252.6 L1328.5,252.8 L1330.0,253.0 L1331.5,253.2 L1333.0,253.3 L1334.5,253.5 L1336.0,253.7 L1337.5,253.8 L1339.0,254.0 L1340.5,254.1 L1342.0,254.3 L1343.5,254.5 L1345.0,254.6 L1346.5,254.7 L1348.0,254.9 L1349.5,255.0 L1351.0,255.1 L1352.5,255.3 L1354.0,255.4 L1355.5,255.5 L1357.0,255.6 L1358.5,255.7 L1360.0,255.7 L1361.5,255.8 L1363.0,255.9 L1364.5,256.0 L1366.0,256.0 L1367.5,256.1 L1369.0,256.2 L1370.5,256.2 L1372.0,256.3 L1373.5,256.3 L1375.0,256.4 L1376.5,256.4 L1378.0,256.5 L1379.5,256.5 L1381.0,256.6 L1382.5,256.6 L1384.0,256.7 L1385.5,256.7 L1387.0,256.8 L1388.5,256.8 L1390.0,256.9 L1391.5,256.9 L1393.0,257.0 L1394.5,257.0 L1396.0,257.1 L1397.5,257.1 L1399.0,257.2 L1400.5,257.2 L1402.0,257.3 L1403.5,257.3 L1405.0,257.4 L1406.5,257.4 L1408.0,257.5 L1409.5,257.5 L1411.0,257.6 L1412.5,257.7 L1414.0,257.7 L1415.5,257.8 L1417.0,257.8 L1418.5,257.9 L1420.0,257.9 L1421.5,258.0 L1423.0,258.0 L1424.5,258.1 L1426.0,258.2 L1427.5,258.2 L1429.0,258.3 L1430.5,258.3 L1432.0,258.4 L1433.5,258.4 L1435.0,258.5 L1436.5,258.6 L1438.0,258.6 L1439.5,258.7 L1441.0,258.7 L1442.5,258.8 L1444.0,258.9 L1445.5,258.9 L1447.0,259.0 L1448.5,259.0 L1450.0,259.1 L1451.5,259.2 L1453.0,259.2 L1454.5,259.3 L1456.0,259.4 L1457.5,259.4 L1459.0,259.5 L1460.5,259.6 L1462.0,259.7 L1463.5,259.7 L1465.0,259.8 L1466.5,259.9 L1468.0,260.0 L1469.5,260.0 L1471.0,260.1 L1472.5,260.2 L1474.0,260.3 L1475.5,260.3 L1477.0,260.4 L1478.5,260.5 L1480.0,260.5 L1481.5,260.6 L1483.0,260.7 L1484.5,260.7 L1486.0,260.8 L1487.5,260.8 L1489.0,260.9 L1490.5,260.9 L1492.0,261.0 L1493.5,261.0 L1495.0,261.1 L1496.5,261.1 L1498.0,261.1 L1499.5,261.2 L1501.0,261.2 L1502.5,261.3 L1504.0,261.3 L1505.5,261.4 L1507.0,261.4 L1508.5,261.4 L1510.0,261.4 L1511.5,261.5 L1513.0,261.5 L1514.5,261.5 L1516.0,261.5 L1517.5,261.5 L1519.0,261.5 L1520.5,261.5 L1522.0,261.4 L1523.5,261.4 L1525.0,261.3 L1526.5,261.2 L1528.0,261.2 L1529.5,261.1 L1531.0,261.0 L1532.5,260.9 L1534.0,260.7 L1535.5,260.6 L1537.0,260.5 L1538.5,260.3 L1540.0,260.2 L1541.5,260.1 L1543.0,259.9"/><use href="#c5" transform="translate(1,0)"/></g>
<g clip-path="url(#ca)" fill="none" stroke="#0000ff" stroke-width="5.4" stroke-linejoin="round"><path id="c6" transform="translate(-0.5,0)" d="M218.5,883.5 L220.0,884.1 L221.5,883.5 L223.0,884.2 L224.5,884.2 L226.0,884.4 L227.5,884.8 L229.0,885.2 L230.5,885.4 L232.0,885.7 L233.5,885.7 L235.0,886.2 L236.5,885.7 L238.0,886.6 L239.5,885.7 L241.0,886.5 L242.5,886.3 L244.0,886.6 L245.5,886.1 L247.0,886.3 L248.5,887.1 L250.0,887.3 L251.5,886.6 L253.0,887.1 L254.5,887.4 L256.0,887.5 L257.5,886.6 L259.0,886.6 L260.5,886.8 L262.0,887.7 L263.5,886.8 L265.0,887.2 L266.5,887.9 L268.0,887.5 L269.5,887.7 L271.0,887.3 L272.5,887.8 L274.0,888.0 L275.5,887.1 L277.0,888.0 L278.5,888.3 L280.0,888.1 L281.5,887.6 L283.0,888.2 L284.5,887.5 L286.0,887.9 L287.5,888.6 L289.0,887.9 L290.5,888.0 L292.0,887.8 L293.5,887.8 L295.0,888.7 L296.5,888.2 L298.0,888.3 L299.5,888.7 L301.0,888.2 L302.5,888.9 L304.0,888.4 L305.5,889.0 L307.0,889.1 L308.5,888.4 L310.0,888.8 L311.5,889.1 L313.0,888.8 L314.5,888.4 L316.0,888.9 L317.5,889.1 L319.0,888.9 L320.5,889.4 L322.0,889.0 L323.5,889.4 L325.0,888.5 L326.5,888.5 L328.0,889.3 L329.5,888.8 L331.0,888.5 L332.5,889.4 L334.0,888.6 L335.5,889.1 L337.0,889.0 L338.5,889.2 L340.0,888.9 L341.5,889.0 L343.0,888.5 L344.5,888.4 L346.0,889.1 L347.5,888.5 L349.0,889.1 L350.5,888.7 L352.0,888.7 L353.5,888.0 L355.0,889.0 L356.5,888.4 L358.0,888.6 L359.5,888.5 L361.0,888.4 L362.5,889.3 L364.0,889.1 L365.5,888.6 L367.0,889.5 L368.5,889.4 L370.0,889.9 L371.5,890.6 L373.0,890.2 L374.5,891.1 L376.0,891.0 L377.5,890.6 L379.0,892.1 L380.5,892.2 L382.0,893.0 L383.5,892.5 L385.0,893.0 L386.5,894.5 L388.0,894.7 L389.5,894.5 L391.0,895.9 L392.5,896.5 L394.0,897.4 L395.5,897.8 L397.0,897.8 L398.5,898.5 L400.0,899.3 L401.5,900.1 L403.0,901.3 L404.5,903.0 L406.0,903.6 L407.5,904.7 L409.0,906.2 L410.5,906.4 L412.0,907.8 L413.5,909.3 L415.0,910.9 L416.5,911.5 L418.0,912.1 L419.5,914.3 L421.0,915.0 L422.5,917.1 L424.0,918.0 L425.5,920.1 L427.0,921.5 L428.5,922.9 L430.0,923.9 L431.5,925.4 L433.0,926.9 L434.5,928.3 L436.0,929.9 L437.5,931.5 L439.0,933.5 L440.5,934.8 L442.0,935.7 L443.5,937.3 L445.0,939.9 L446.5,941.1 L448.0,942.3 L449.5,944.0 L451.0,946.3 L452.5,947.3 L454.0,949.5 L455.5,951.8 L457.0,953.5 L458.5,954.7 L460.0,957.0 L461.5,959.2 L463.0,961.6 L464.5,963.0 L466.0,965.0 L467.5,967.3 L469.0,969.9 L470.5,972.1 L472.0,974.0 L473.5,975.7 L475.0,978.4 L476.5,979.8 L478.0,981.5 L479.5,983.6 L481.0,985.8 L482.5,987.7 L484.0,989.2 L485.5,991.1 L487.0,993.6 L488.5,996.1 L490.0,997.7 L491.5,1000.5 L493.0,1001.8 L494.5,1004.1 L496.0,1006.7 L497.5,1007.9 L499.0,1010.4 L500.5,1012.2 L502.0,1014.6 L503.5,1015.6 L505.0,1017.1 L506.5,1019.5 L508.0,1021.0 L509.5,1022.5 L511.0,1023.9 L512.5,1024.0 L514.0,1025.4 L515.5,1026.9 L517.0,1028.4 L518.5,1029.4 L520.0,1029.8 L521.5,1031.2 L523.0,1031.8 L524.5,1032.3 L526.0,1033.3 L527.5,1034.3 L529.0,1034.9 L530.5,1036.1 L532.0,1036.6 L533.5,1036.4 L535.0,1037.5 L536.5,1036.9 L538.0,1037.2 L539.5,1037.5 L541.0,1038.2 L542.5,1037.9 L544.0,1039.2 L545.5,1039.2 L547.0,1038.3 L548.5,1038.6 L550.0,1038.9 L551.5,1038.7 L553.0,1039.6 L554.5,1039.1 L556.0,1039.9 L557.5,1039.5 L559.0,1039.9 L560.5,1039.4 L562.0,1039.4 L563.5,1039.4 L565.0,1039.4 L566.5,1039.4 L568.0,1039.4 L569.5,1039.4 L571.0,1039.4 L572.5,1039.4 L574.0,1039.4 L575.5,1039.4 L577.0,1039.4 L578.5,1039.4 L580.0,1039.4 L581.5,1039.4 L583.0,1039.4 L584.5,1039.4 L586.0,1039.4 L587.5,1039.4 L589.0,1039.4 L590.5,1039.4 L592.0,1039.4 L593.5,1039.3 L595.0,1039.3 L596.5,1039.3 L598.0,1039.3 L599.5,1039.3 L601.0,1039.3 L602.5,1039.2 L604.0,1039.2 L605.5,1039.2 L607.0,1039.2 L608.5,1039.2 L610.0,1039.1 L611.5,1039.1 L613.0,1039.1 L614.5,1039.1 L616.0,1039.0 L617.5,1039.0 L619.0,1039.0 L620.5,1039.0 L622.0,1039.0 L623.5,1039.0 L625.0,1039.0 L626.5,1038.9 L628.0,1038.9 L629.5,1038.9 L631.0,1038.9 L632.5,1038.9 L634.0,1038.9 L635.5,1038.9 L637.0,1038.9 L638.5,1038.8 L640.0,1038.8 L641.5,1038.8 L643.0,1038.8 L644.5,1038.8 L646.0,1038.8 L647.5,1038.8 L649.0,1038.7 L650.5,1038.7 L652.0,1038.7 L653.5,1038.7 L655.0,1038.7 L656.5,1038.7 L658.0,1038.6 L659.5,1038.6 L661.0,1038.6 L662.5,1038.6 L664.0,1038.5 L665.5,1038.5 L667.0,1038.4 L668.5,1038.4 L670.0,1038.4 L671.5,1038.3 L673.0,1038.3 L674.5,1038.2 L676.0,1038.1 L677.5,1038.1 L679.0,1038.0 L680.5,1038.0 L682.0,1037.9 L683.5,1037.8 L685.0,1037.8 L686.5,1037.7 L688.0,1037.7 L689.5,1037.6 L691.0,1037.5 L692.5,1037.5 L694.0,1037.4 L695.5,1037.4 L697.0,1037.3 L698.5,1037.3 L700.0,1037.2 L701.5,1037.2 L703.0,1037.1 L704.5,1037.1 L706.0,1037.0 L707.5,1037.0 L709.0,1036.9 L710.5,1036.9 L712.0,1036.8 L713.5,1036.8 L715.0,1036.7 L716.5,1036.7 L718.0,1036.6 L719.5,1036.6 L721.0,1036.6 L722.5,1036.5 L724.0,1036.5 L725.5,1036.4 L727.0,1036.4 L728.5,1036.3 L730.0,1036.3 L731.5,1036.3 L733.0,1036.2 L734.5,1036.2 L736.0,1036.1 L737.5,1036.1 L739.0,1036.0 L740.5,1036.0 L742.0,1036.0 L743.5,1035.9 L745.0,1035.9 L746.5,1035.8 L748.0,1035.8 L749.5,1035.8 L751.0,1035.7 L752.5,1035.7 L754.0,1035.7 L755.5,1035.6 L757.0,1035.6 L758.5,1035.6 L760.0,1035.5 L761.5,1035.5 L763.0,1035.5 L764.5,1035.4 L766.0,1035.4 L767.5,1035.3 L769.0,1035.3 L770.5,1035.3 L772.0,1035.2 L773.5,1035.2 L775.0,1035.2 L776.5,1035.1 L778.0,1035.1 L779.5,1035.0 L781.0,1035.0 L782.5,1035.0 L784.0,1034.9 L785.5,1034.9 L787.0,1034.8 L788.5,1034.8 L790.0,1034.7 L791.5,1034.7 L793.0,1034.6 L794.5,1034.6 L796.0,1034.5 L797.5,1034.5 L799.0,1034.4 L800.5,1034.4 L802.0,1034.3 L803.5,1034.3 L805.0,1034.2 L806.5,1034.2 L808.0,1034.1 L809.5,1034.1 L811.0,1034.0 L812.5,1033.9 L814.0,1033.9 L815.5,1033.8 L817.0,1033.8 L818.5,1033.7 L820.0,1033.6 L821.5,1033.6 L823.0,1033.5 L824.5,1033.5 L826.0,1033.4 L827.5,1033.3 L829.0,1033.2 L830.5,1033.2 L832.0,1033.1 L833.5,1033.0 L835.0,1032.9 L836.5,1032.8 L838.0,1032.7 L839.5,1032.7 L841.0,1032.6 L842.5,1032.5 L844.0,1032.4 L845.5,1032.3 L847.0,1032.2 L848.5,1032.2 L850.0,1032.1 L851.5,1032.0 L853.0,1031.9 L854.5,1031.9 L856.0,1031.8 L857.5,1031.7 L859.0,1031.7 L860.5,1031.6 L862.0,1031.6 L863.5,1031.5 L865.0,1031.5 L866.5,1031.4 L868.0,1031.4 L869.5,1031.4 L871.0,1031.3 L872.5,1031.3 L874.0,1031.2 L875.5,1031.2 L877.0,1031.2 L878.5,1031.1 L880.0,1031.1 L881.5,1031.0 L883.0,1031.0 L884.5,1031.0 L886.0,1030.9 L887.5,1030.9 L889.0,1030.9 L890.5,1030.8 L892.0,1030.8 L893.5,1030.8 L895.0,1030.7 L896.5,1030.7 L898.0,1030.7 L899.5,1030.6 L901.0,1030.6 L902.5,1030.6 L904.0,1030.5 L905.5,1030.5 L907.0,1030.5 L908.5,1030.4 L910.0,1030.4 L911.5,1030.4 L913.0,1030.3 L914.5,1030.3 L916.0,1030.2 L917.5,1030.2 L919.0,1030.2 L920.5,1030.1 L922.0,1030.1 L923.5,1030.1 L925.0,1030.1 L926.5,1030.0 L928.0,1030.0 L929.5,1030.0 L931.0,1030.0 L932.5,1030.0 L934.0,1030.0 L935.5,1030.0 L937.0,1030.1 L938.5,1030.1 L940.0,1030.2 L941.5,1030.2 L943.0,1030.3 L944.5,1030.3 L946.0,1030.4 L947.5,1030.5 L949.0,1030.5 L950.5,1030.6 L952.0,1030.6 L953.5,1030.6 L955.0,1030.7 L956.5,1030.7 L958.0,1030.7 L959.5,1030.8 L961.0,1030.8 L962.5,1030.8 L964.0,1030.9 L965.5,1030.9 L967.0,1030.9 L968.5,1030.9 L970.0,1031.0 L971.5,1031.0 L973.0,1031.0 L974.5,1031.1 L976.0,1031.1 L977.5,1031.1 L979.0,1031.2 L980.5,1031.2 L982.0,1031.3 L983.5,1031.3 L985.0,1031.4 L986.5,1031.4 L988.0,1031.5 L989.5,1031.6 L991.0,1031.6 L992.5,1031.7 L994.0,1031.8 L995.5,1031.8 L997.0,1031.9 L998.5,1031.9 L1000.0,1032.0 L1001.5,1032.0 L1003.0,1032.1 L1004.5,1032.1 L1006.0,1032.2 L1007.5,1032.2 L1009.0,1032.3 L1010.5,1032.3 L1012.0,1032.4 L1013.5,1032.4 L1015.0,1032.5 L1016.5,1032.5 L1018.0,1032.5 L1019.5,1032.6 L1021.0,1032.6 L1022.5,1032.7 L1024.0,1032.7 L1025.5,1032.8 L1027.0,1032.8 L1028.5,1032.8 L1030.0,1032.9 L1031.5,1032.9 L1033.0,1033.0 L1034.5,1033.0 L1036.0,1033.1 L1037.5,1033.1 L1039.0,1033.1 L1040.5,1033.2 L1042.0,1033.2 L1043.5,1033.3 L1045.0,1033.3 L1046.5,1033.4 L1048.0,1033.5 L1049.5,1033.5 L1051.0,1033.6 L1052.5,1033.6 L1054.0,1033.7 L1055.5,1033.8 L1057.0,1033.8 L1058.5,1033.9 L1060.0,1033.9 L1061.5,1034.0 L1063.0,1034.0 L1064.5,1034.1 L1066.0,1034.2 L1067.5,1034.2 L1069.0,1034.3 L1070.5,1034.3 L1072.0,1034.4 L1073.5,1034.4 L1075.0,1034.5 L1076.5,1034.5 L1078.0,1034.5 L1079.5,1034.6 L1081.0,1034.6 L1082.5,1034.6 L1084.0,1034.7 L1085.5,1034.7 L1087.0,1034.7 L1088.5,1034.7 L1090.0,1034.8 L1091.5,1034.8 L1093.0,1034.8 L1094.5,1034.8 L1096.0,1034.9 L1097.5,1034.9 L1099.0,1034.9 L1100.5,1034.9 L1102.0,1034.9 L1103.5,1035.0 L1105.0,1035.0 L1106.5,1035.0 L1108.0,1035.0 L1109.5,1035.0 L1111.0,1035.0 L1112.5,1035.1 L1114.0,1035.1 L1115.5,1035.1 L1117.0,1035.1 L1118.5,1035.2 L1120.0,1035.2 L1121.5,1035.2 L1123.0,1035.2 L1124.5,1035.3 L1126.0,1035.3 L1127.5,1035.3 L1129.0,1035.3 L1130.5,1035.4 L1132.0,1035.4 L1133.5,1035.4 L1135.0,1035.4 L1136.5,1035.5 L1138.0,1035.5 L1139.5,1035.5 L1141.0,1035.6 L1142.5,1035.6 L1144.0,1035.6 L1145.5,1035.7 L1147.0,1035.7 L1148.5,1035.7 L1150.0,1035.7 L1151.5,1035.8 L1153.0,1035.8 L1154.5,1035.8 L1156.0,1035.9 L1157.5,1035.9 L1159.0,1035.9 L1160.5,1036.0 L1162.0,1036.0 L1163.5,1036.1 L1165.0,1036.1 L1166.5,1036.1 L1168.0,1036.2 L1169.5,1036.2 L1171.0,1036.3 L1172.5,1036.3 L1174.0,1036.4 L1175.5,1036.4 L1177.0,1036.5 L1178.5,1036.5 L1180.0,1036.5 L1181.5,1036.6 L1183.0,1036.6 L1184.5,1036.7 L1186.0,1036.7 L1187.5,1036.8 L1189.0,1036.8 L1190.5,1036.9 L1192.0,1036.9 L1193.5,1037.0 L1195.0,1037.0 L1196.5,1037.1 L1198.0,1037.1 L1199.5,1037.1 L1201.0,1037.2 L1202.5,1037.2 L1204.0,1037.3 L1205.5,1037.3 L1207.0,1037.3 L1208.5,1037.4 L1210.0,1037.4 L1211.5,1037.4 L1213.0,1037.5 L1214.5,1037.5 L1216.0,1037.5 L1217.5,1037.6 L1219.0,1037.6 L1220.5,1037.6 L1222.0,1037.7 L1223.5,1037.7 L1225.0,1037.7 L1226.5,1037.8 L1228.0,1037.8 L1229.5,1037.8 L1231.0,1037.8 L1232.5,1037.9 L1234.0,1037.9 L1235.5,1037.9 L1237.0,1037.9 L1238.5,1038.0 L1240.0,1038.0 L1241.5,1038.0 L1243.0,1038.0 L1244.5,1038.0 L1246.0,1038.0 L1247.5,1038.1 L1249.0,1038.1 L1250.5,1038.1 L1252.0,1038.1 L1253.5,1038.1 L1255.0,1038.1 L1256.5,1038.1 L1258.0,1038.1 L1259.5,1038.1 L1261.0,1038.2 L1262.5,1038.2 L1264.0,1038.2 L1265.5,1038.2 L1267.0,1038.2 L1268.5,1038.2 L1270.0,1038.2 L1271.5,1038.2 L1273.0,1038.2 L1274.5,1038.2 L1276.0,1038.3 L1277.5,1038.3 L1279.0,1038.3 L1280.5,1038.3 L1282.0,1038.3 L1283.5,1038.3 L1285.0,1038.4 L1286.5,1038.4 L1288.0,1038.4 L1289.5,1038.4 L1291.0,1038.5 L1292.5,1038.5 L1294.0,1038.5 L1295.5,1038.6 L1297.0,1038.6 L1298.5,1038.6 L1300.0,1038.7 L1301.5,1038.7 L1303.0,1038.7 L1304.5,1038.7 L1306.0,1038.7 L1307.5,1038.8 L1309.0,1038.8 L1310.5,1038.8 L1312.0,1038.8 L1313.5,1038.8 L1315.0,1038.8 L1316.5,1038.8 L1318.0,1038.8 L1319.5,1038.8 L1321.0,1038.8 L1322.5,1038.8 L1324.0,1038.8 L1325.5,1038.8 L1327.0,1038.8 L1328.5,1038.8 L1330.0,1038.8 L1331.5,1038.8 L1333.0,1038.8 L1334.5,1038.8 L1336.0,1038.8 L1337.5,1038.8 L1339.0,1038.9 L1340.5,1038.9 L1342.0,1038.9 L1343.5,1038.9 L1345.0,1038.9 L1346.5,1038.9 L1348.0,1038.9 L1349.5,1038.9 L1351.0,1038.9 L1352.5,1038.9 L1354.0,1038.9 L1355.5,1038.9 L1357.0,1038.9 L1358.5,1038.9 L1360.0,1038.9 L1361.5,1038.9 L1363.0,1038.9 L1364.5,1038.9 L1366.0,1038.9 L1367.5,1038.9 L1369.0,1038.9 L1370.5,1038.9 L1372.0,1038.9 L1373.5,1038.9 L1375.0,1038.9 L1376.5,1038.9 L1378.0,1038.9 L1379.5,1038.9 L1381.0,1038.9 L1382.5,1038.9 L1384.0,1038.9 L1385.5,1038.9 L1387.0,1038.9 L1388.5,1038.9 L1390.0,1038.9 L1391.5,1038.9 L1393.0,1038.9 L1394.5,1038.9 L1396.0,1038.9 L1397.5,1038.9 L1399.0,1038.9 L1400.5,1038.9 L1402.0,1038.9 L1403.5,1038.9 L1405.0,1038.9 L1406.5,1038.9 L1408.0,1038.9 L1409.5,1038.9 L1411.0,1038.9 L1412.5,1038.9 L1414.0,1038.9 L1415.5,1039.0 L1417.0,1039.0 L1418.5,1039.0 L1420.0,1039.0 L1421.5,1039.0 L1423.0,1039.0 L1424.5,1039.0 L1426.0,1039.0 L1427.5,1039.0 L1429.0,1039.0 L1430.5,1039.0 L1432.0,1039.0 L1433.5,1039.0 L1435.0,1039.0 L1436.5,1039.0 L1438.0,1039.0 L1439.5,1039.0 L1441.0,1039.0 L1442.5,1039.0 L1444.0,1039.0 L1445.5,1039.0 L1447.0,1039.0 L1448.5,1039.0 L1450.0,1039.0 L1451.5,1039.0 L1453.0,1039.0 L1454.5,1039.0 L1456.0,1039.0 L1457.5,1039.0 L1459.0,1039.0 L1460.5,1039.0 L1462.0,1039.0 L1463.5,1039.0 L1465.0,1039.0 L1466.5,1039.0 L1468.0,1039.0 L1469.5,1039.0 L1471.0,1039.0 L1472.5,1039.0 L1474.0,1039.0 L1475.5,1039.0 L1477.0,1039.0 L1478.5,1039.0 L1480.0,1039.0 L1481.5,1039.0 L1483.0,1039.0 L1484.5,1039.0 L1486.0,1039.0 L1487.5,1039.0 L1489.0,1039.0 L1490.5,1039.0 L1492.0,1039.0 L1493.5,1039.0 L1495.0,1039.0 L1496.5,1039.0 L1498.0,1039.0 L1499.5,1039.0 L1501.0,1039.0 L1502.5,1039.0 L1504.0,1039.0 L1505.5,1039.0 L1507.0,1039.0 L1508.5,1039.0 L1510.0,1039.0 L1511.5,1039.0 L1513.0,1039.0 L1514.5,1039.0 L1516.0,1039.0 L1517.5,1039.0 L1519.0,1039.0 L1520.5,1039.0 L1522.0,1039.0 L1523.5,1039.0 L1525.0,1039.0 L1526.5,1039.0 L1528.0,1039.0 L1529.5,1039.0 L1531.0,1039.0 L1532.5,1039.0 L1534.0,1039.0 L1535.5,1039.0 L1537.0,1039.0 L1538.5,1039.0 L1540.0,1039.0 L1541.5,1039.0 L1543.0,1039.0"/><use href="#c6" transform="translate(1,0)"/></g>
<g clip-path="url(#ca)" fill="none" stroke="#ff0000" stroke-width="5.4" stroke-linejoin="round"><path id="c7" transform="translate(-0.5,0)" d="M218.5,823.0 L220.0,822.7 L221.5,823.5 L223.0,823.5 L224.5,823.6 L226.0,823.7 L227.5,823.7 L229.0,824.3 L230.5,824.1 L232.0,824.2 L233.5,824.7 L235.0,824.7 L236.5,824.4 L238.0,825.0 L239.5,824.7 L241.0,825.5 L242.5,825.7 L244.0,825.4 L245.5,825.9 L247.0,825.1 L248.5,825.7 L250.0,825.2 L251.5,825.7 L253.0,825.4 L254.5,825.5 L256.0,826.2 L257.5,825.8 L259.0,825.7 L260.5,825.9 L262.0,826.1 L263.5,826.3 L265.0,826.1 L266.5,826.7 L268.0,826.6 L269.5,826.6 L271.0,826.6 L272.5,827.1 L274.0,826.9 L275.5,826.5 L277.0,827.2 L278.5,827.5 L280.0,827.0 L281.5,827.6 L283.0,827.0 L284.5,827.3 L286.0,827.2 L287.5,827.2 L289.0,827.7 L290.5,827.4 L292.0,828.0 L293.5,827.6 L295.0,827.1 L296.5,827.5 L298.0,828.1 L299.5,827.6 L301.0,827.2 L302.5,827.6 L304.0,827.4 L305.5,828.6 L307.0,828.7 L308.5,828.5 L310.0,828.4 L311.5,828.6 L313.0,828.0 L314.5,828.2 L316.0,828.5 L317.5,828.3 L319.0,828.0 L320.5,829.1 L322.0,828.4 L323.5,828.5 L325.0,828.3 L326.5,828.2 L328.0,828.4 L329.5,828.9 L331.0,828.8 L332.5,828.4 L334.0,827.9 L335.5,828.9 L337.0,828.2 L338.5,828.6 L340.0,827.9 L341.5,828.7 L343.0,828.4 L344.5,828.5 L346.0,828.4 L347.5,828.3 L349.0,828.6 L350.5,829.1 L352.0,828.0 L353.5,828.3 L355.0,828.0 L356.5,828.8 L358.0,828.7 L359.5,828.2 L361.0,828.5 L362.5,828.9 L364.0,829.1 L365.5,828.6 L367.0,829.6 L368.5,829.7 L370.0,829.1 L371.5,830.2 L373.0,830.2 L374.5,830.5 L376.0,830.4 L377.5,830.3 L379.0,831.4 L380.5,831.4 L382.0,831.5 L383.5,831.8 L385.0,833.0 L386.5,832.9 L388.0,833.5 L389.5,834.1 L391.0,834.8 L392.5,835.1 L394.0,835.1 L395.5,836.2 L397.0,836.7 L398.5,837.5 L400.0,838.4 L401.5,838.6 L403.0,839.5 L404.5,840.4 L406.0,841.7 L407.5,842.6 L409.0,844.6 L410.5,845.4 L412.0,846.5 L413.5,847.7 L415.0,849.2 L416.5,850.4 L418.0,851.8 L419.5,853.3 L421.0,854.8 L422.5,856.6 L424.0,858.2 L425.5,858.6 L427.0,860.3 L428.5,862.4 L430.0,863.5 L431.5,866.0 L433.0,867.0 L434.5,869.3 L436.0,871.0 L437.5,872.8 L439.0,873.6 L440.5,875.5 L442.0,877.6 L443.5,878.5 L445.0,880.0 L446.5,882.0 L448.0,883.9 L449.5,884.9 L451.0,886.7 L452.5,888.4 L454.0,890.7 L455.5,892.9 L457.0,894.3 L458.5,897.1 L460.0,898.5 L461.5,900.6 L463.0,902.0 L464.5,904.2 L466.0,906.3 L467.5,907.3 L469.0,908.7 L470.5,910.6 L472.0,912.2 L473.5,914.0 L475.0,915.8 L476.5,917.0 L478.0,919.1 L479.5,921.5 L481.0,923.8 L482.5,926.0 L484.0,928.2 L485.5,930.1 L487.0,932.8 L488.5,934.4 L490.0,937.0 L491.5,939.8 L493.0,942.4 L494.5,944.2 L496.0,946.9 L497.5,948.4 L499.0,950.7 L500.5,951.7 L502.0,953.6 L503.5,956.4 L505.0,957.1 L506.5,959.4 L508.0,960.4 L509.5,961.8 L511.0,963.5 L512.5,965.5 L514.0,966.5 L515.5,968.2 L517.0,969.1 L518.5,970.1 L520.0,971.2 L521.5,971.9 L523.0,972.7 L524.5,974.2 L526.0,975.3 L527.5,976.6 L529.0,977.3 L530.5,978.3 L532.0,979.1 L533.5,979.8 L535.0,980.3 L536.5,980.1 L538.0,980.9 L539.5,981.3 L541.0,982.6 L542.5,983.0 L544.0,982.8 L545.5,983.4 L547.0,984.0 L548.5,984.2 L550.0,983.7 L551.5,984.6 L553.0,984.9 L554.5,984.1 L556.0,984.3 L557.5,984.8 L559.0,984.6 L560.5,984.9 L562.0,985.0 L563.5,985.0 L565.0,985.0 L566.5,985.0 L568.0,985.0 L569.5,985.0 L571.0,985.1 L572.5,985.1 L574.0,985.1 L575.5,985.1 L577.0,985.1 L578.5,985.1 L580.0,985.1 L581.5,985.1 L583.0,985.1 L584.5,985.1 L586.0,985.1 L587.5,985.1 L589.0,985.1 L590.5,985.1 L592.0,985.1 L593.5,985.1 L595.0,985.1 L596.5,985.1 L598.0,985.1 L599.5,985.1 L601.0,985.0 L602.5,985.0 L604.0,985.0 L605.5,985.0 L607.0,985.0 L608.5,985.0 L610.0,985.0 L611.5,985.0 L613.0,985.0 L614.5,984.9 L616.0,984.9 L617.5,984.9 L619.0,984.9 L620.5,984.9 L622.0,984.9 L623.5,984.9 L625.0,984.9 L626.5,984.8 L628.0,984.8 L629.5,984.8 L631.0,984.8 L632.5,984.8 L634.0,984.8 L635.5,984.7 L637.0,984.7 L638.5,984.7 L640.0,984.7 L641.5,984.6 L643.0,984.6 L644.5,984.6 L646.0,984.6 L647.5,984.5 L649.0,984.5 L650.5,984.5 L652.0,984.5 L653.5,984.4 L655.0,984.4 L656.5,984.4 L658.0,984.3 L659.5,984.3 L661.0,984.3 L662.5,984.2 L664.0,984.2 L665.5,984.2 L667.0,984.1 L668.5,984.1 L670.0,984.0 L671.5,983.9 L673.0,983.9 L674.5,983.8 L676.0,983.8 L677.5,983.7 L679.0,983.6 L680.5,983.6 L682.0,983.5 L683.5,983.5 L685.0,983.4 L686.5,983.3 L688.0,983.3 L689.5,983.2 L691.0,983.2 L692.5,983.1 L694.0,983.1 L695.5,983.0 L697.0,983.0 L698.5,982.9 L700.0,982.9 L701.5,982.9 L703.0,982.8 L704.5,982.8 L706.0,982.8 L707.5,982.8 L709.0,982.7 L710.5,982.7 L712.0,982.7 L713.5,982.7 L715.0,982.7 L716.5,982.6 L718.0,982.6 L719.5,982.6 L721.0,982.6 L722.5,982.6 L724.0,982.5 L725.5,982.5 L727.0,982.5 L728.5,982.5 L730.0,982.5 L731.5,982.4 L733.0,982.4 L734.5,982.4 L736.0,982.4 L737.5,982.4 L739.0,982.3 L740.5,982.3 L742.0,982.3 L743.5,982.2 L745.0,982.2 L746.5,982.2 L748.0,982.2 L749.5,982.1 L751.0,982.1 L752.5,982.1 L754.0,982.0 L755.5,982.0 L757.0,981.9 L758.5,981.9 L760.0,981.9 L761.5,981.8 L763.0,981.8 L764.5,981.8 L766.0,981.7 L767.5,981.7 L769.0,981.6 L770.5,981.6 L772.0,981.5 L773.5,981.5 L775.0,981.4 L776.5,981.4 L778.0,981.3 L779.5,981.3 L781.0,981.2 L782.5,981.1 L784.0,981.1 L785.5,981.0 L787.0,980.9 L788.5,980.8 L790.0,980.7 L791.5,980.6 L793.0,980.5 L794.5,980.4 L796.0,980.3 L797.5,980.1 L799.0,980.0 L800.5,979.9 L802.0,979.8 L803.5,979.6 L805.0,979.5 L806.5,979.4 L808.0,979.2 L809.5,979.1 L811.0,979.0 L812.5,978.9 L814.0,978.7 L815.5,978.6 L817.0,978.5 L818.5,978.4 L820.0,978.3 L821.5,978.2 L823.0,978.1 L824.5,978.0 L826.0,977.9 L827.5,977.8 L829.0,977.7 L830.5,977.6 L832.0,977.5 L833.5,977.4 L835.0,977.2 L836.5,977.1 L838.0,977.0 L839.5,976.9 L841.0,976.9 L842.5,976.8 L844.0,976.7 L845.5,976.6 L847.0,976.5 L848.5,976.4 L850.0,976.3 L851.5,976.2 L853.0,976.1 L854.5,976.0 L856.0,975.9 L857.5,975.8 L859.0,975.7 L860.5,975.7 L862.0,975.6 L863.5,975.5 L865.0,975.4 L866.5,975.3 L868.0,975.2 L869.5,975.1 L871.0,975.0 L872.5,975.0 L874.0,974.9 L875.5,974.8 L877.0,974.7 L878.5,974.6 L880.0,974.5 L881.5,974.5 L883.0,974.4 L884.5,974.3 L886.0,974.2 L887.5,974.1 L889.0,974.1 L890.5,974.0 L892.0,973.9 L893.5,973.9 L895.0,973.8 L896.5,973.8 L898.0,973.7 L899.5,973.7 L901.0,973.6 L902.5,973.6 L904.0,973.5 L905.5,973.5 L907.0,973.5 L908.5,973.4 L910.0,973.4 L911.5,973.3 L913.0,973.3 L914.5,973.3 L916.0,973.2 L917.5,973.2 L919.0,973.2 L920.5,973.2 L922.0,973.2 L923.5,973.2 L925.0,973.2 L926.5,973.2 L928.0,973.3 L929.5,973.3 L931.0,973.3 L932.5,973.4 L934.0,973.4 L935.5,973.5 L937.0,973.5 L938.5,973.6 L940.0,973.7 L941.5,973.7 L943.0,973.8 L944.5,973.9 L946.0,973.9 L947.5,974.0 L949.0,974.1 L950.5,974.1 L952.0,974.2 L953.5,974.3 L955.0,974.3 L956.5,974.4 L958.0,974.5 L959.5,974.6 L961.0,974.7 L962.5,974.8 L964.0,974.9 L965.5,975.0 L967.0,975.1 L968.5,975.3 L970.0,975.4 L971.5,975.5 L973.0,975.6 L974.5,975.7 L976.0,975.9 L977.5,976.0 L979.0,976.1 L980.5,976.2 L982.0,976.4 L983.5,976.5 L985.0,976.7 L986.5,976.8 L988.0,977.0 L989.5,977.1 L991.0,977.3 L992.5,977.4 L994.0,977.6 L995.5,977.7 L997.0,977.9 L998.5,978.0 L1000.0,978.2 L1001.5,978.3 L1003.0,978.4 L1004.5,978.6 L1006.0,978.7 L1007.5,978.8 L1009.0,979.0 L1010.5,979.1 L1012.0,979.2 L1013.5,979.4 L1015.0,979.5 L1016.5,979.6 L1018.0,979.8 L1019.5,979.9 L1021.0,980.0 L1022.5,980.1 L1024.0,980.3 L1025.5,980.4 L1027.0,980.5 L1028.5,980.6 L1030.0,980.7 L1031.5,980.9 L1033.0,981.0 L1034.5,981.1 L1036.0,981.2 L1037.5,981.4 L1039.0,981.5 L1040.5,981.6 L1042.0,981.7 L1043.5,981.8 L1045.0,982.0 L1046.5,982.1 L1048.0,982.2 L1049.5,982.3 L1051.0,982.5 L1052.5,982.6 L1054.0,982.7 L1055.5,982.8 L1057.0,983.0 L1058.5,983.1 L1060.0,983.2 L1061.5,983.3 L1063.0,983.4 L1064.5,983.6 L1066.0,983.7 L1067.5,983.8 L1069.0,983.9 L1070.5,984.0 L1072.0,984.1 L1073.5,984.2 L1075.0,984.3 L1076.5,984.4 L1078.0,984.5 L1079.5,984.6 L1081.0,984.7 L1082.5,984.8 L1084.0,984.9 L1085.5,985.0 L1087.0,985.1 L1088.5,985.1 L1090.0,985.2 L1091.5,985.3 L1093.0,985.4 L1094.5,985.5 L1096.0,985.5 L1097.5,985.6 L1099.0,985.7 L1100.5,985.8 L1102.0,985.8 L1103.5,985.9 L1105.0,986.0 L1106.5,986.0 L1108.0,986.1 L1109.5,986.2 L1111.0,986.3 L1112.5,986.3 L1114.0,986.4 L1115.5,986.5 L1117.0,986.5 L1118.5,986.6 L1120.0,986.7 L1121.5,986.7 L1123.0,986.8 L1124.5,986.8 L1126.0,986.9 L1127.5,987.0 L1129.0,987.0 L1130.5,987.1 L1132.0,987.2 L1133.5,987.2 L1135.0,987.3 L1136.5,987.4 L1138.0,987.4 L1139.5,987.5 L1141.0,987.6 L1142.5,987.6 L1144.0,987.7 L1145.5,987.7 L1147.0,987.8 L1148.5,987.9 L1150.0,987.9 L1151.5,988.0 L1153.0,988.0 L1154.5,988.1 L1156.0,988.1 L1157.5,988.2 L1159.0,988.2 L1160.5,988.3 L1162.0,988.3 L1163.5,988.4 L1165.0,988.4 L1166.5,988.4 L1168.0,988.5 L1169.5,988.5 L1171.0,988.6 L1172.5,988.6 L1174.0,988.6 L1175.5,988.7 L1177.0,988.7 L1178.5,988.8 L1180.0,988.8 L1181.5,988.8 L1183.0,988.9 L1184.5,988.9 L1186.0,988.9 L1187.5,989.0 L1189.0,989.0 L1190.5,989.0 L1192.0,989.1 L1193.5,989.1 L1195.0,989.1 L1196.5,989.2 L1198.0,989.2 L1199.5,989.2 L1201.0,989.3 L1202.5,989.3 L1204.0,989.4 L1205.5,989.4 L1207.0,989.4 L1208.5,989.5 L1210.0,989.5 L1211.5,989.6 L1213.0,989.6 L1214.5,989.6 L1216.0,989.7 L1217.5,989.7 L1219.0,989.8 L1220.5,989.8 L1222.0,989.8 L1223.5,989.9 L1225.0,989.9 L1226.5,989.9 L1228.0,990.0 L1229.5,990.0 L1231.0,990.1 L1232.5,990.1 L1234.0,990.1 L1235.5,990.2 L1237.0,990.2 L1238.5,990.2 L1240.0,990.3 L1241.5,990.3 L1243.0,990.3 L1244.5,990.3 L1246.0,990.4 L1247.5,990.4 L1249.0,990.4 L1250.5,990.4 L1252.0,990.5 L1253.5,990.5 L1255.0,990.5 L1256.5,990.5 L1258.0,990.6 L1259.5,990.6 L1261.0,990.6 L1262.5,990.6 L1264.0,990.6 L1265.5,990.7 L1267.0,990.7 L1268.5,990.7 L1270.0,990.7 L1271.5,990.7 L1273.0,990.8 L1274.5,990.8 L1276.0,990.8 L1277.5,990.9 L1279.0,990.9 L1280.5,990.9 L1282.0,990.9 L1283.5,991.0 L1285.0,991.0 L1286.5,991.1 L1288.0,991.1 L1289.5,991.1 L1291.0,991.2 L1292.5,991.2 L1294.0,991.3 L1295.5,991.3 L1297.0,991.4 L1298.5,991.4 L1300.0,991.5 L1301.5,991.5 L1303.0,991.5 L1304.5,991.6 L1306.0,991.6 L1307.5,991.7 L1309.0,991.7 L1310.5,991.7 L1312.0,991.8 L1313.5,991.8 L1315.0,991.8 L1316.5,991.9 L1318.0,991.9 L1319.5,991.9 L1321.0,992.0 L1322.5,992.0 L1324.0,992.0 L1325.5,992.1 L1327.0,992.1 L1328.5,992.1 L1330.0,992.1 L1331.5,992.2 L1333.0,992.2 L1334.5,992.2 L1336.0,992.3 L1337.5,992.3 L1339.0,992.3 L1340.5,992.3 L1342.0,992.4 L1343.5,992.4 L1345.0,992.4 L1346.5,992.4 L1348.0,992.4 L1349.5,992.5 L1351.0,992.5 L1352.5,992.5 L1354.0,992.5 L1355.5,992.5 L1357.0,992.5 L1358.5,992.5 L1360.0,992.5 L1361.5,992.5 L1363.0,992.5 L1364.5,992.5 L1366.0,992.5 L1367.5,992.5 L1369.0,992.5 L1370.5,992.5 L1372.0,992.5 L1373.5,992.5 L1375.0,992.5 L1376.5,992.5 L1378.0,992.5 L1379.5,992.5 L1381.0,992.5 L1382.5,992.5 L1384.0,992.5 L1385.5,992.5 L1387.0,992.5 L1388.5,992.5 L1390.0,992.5 L1391.5,992.5 L1393.0,992.5 L1394.5,992.5 L1396.0,992.5 L1397.5,992.5 L1399.0,992.5 L1400.5,992.5 L1402.0,992.5 L1403.5,992.5 L1405.0,992.5 L1406.5,992.5 L1408.0,992.5 L1409.5,992.5 L1411.0,992.5 L1412.5,992.5 L1414.0,992.5 L1415.5,992.5 L1417.0,992.5 L1418.5,992.5 L1420.0,992.5 L1421.5,992.5 L1423.0,992.5 L1424.5,992.5 L1426.0,992.5 L1427.5,992.5 L1429.0,992.5 L1430.5,992.5 L1432.0,992.5 L1433.5,992.5 L1435.0,992.5 L1436.5,992.5 L1438.0,992.5 L1439.5,992.5 L1441.0,992.5 L1442.5,992.5 L1444.0,992.5 L1445.5,992.5 L1447.0,992.5 L1448.5,992.5 L1450.0,992.5 L1451.5,992.5 L1453.0,992.5 L1454.5,992.5 L1456.0,992.5 L1457.5,992.5 L1459.0,992.5 L1460.5,992.5 L1462.0,992.5 L1463.5,992.5 L1465.0,992.5 L1466.5,992.5 L1468.0,992.5 L1469.5,992.5 L1471.0,992.5 L1472.5,992.5 L1474.0,992.5 L1475.5,992.5 L1477.0,992.5 L1478.5,992.5 L1480.0,992.5 L1481.5,992.5 L1483.0,992.5 L1484.5,992.5 L1486.0,992.5 L1487.5,992.5 L1489.0,992.5 L1490.5,992.5 L1492.0,992.5 L1493.5,992.5 L1495.0,992.5 L1496.5,992.5 L1498.0,992.5 L1499.5,992.5 L1501.0,992.5 L1502.5,992.5 L1504.0,992.5 L1505.5,992.5 L1507.0,992.5 L1508.5,992.5 L1510.0,992.5 L1511.5,992.5 L1513.0,992.5 L1514.5,992.5 L1516.0,992.5 L1517.5,992.5 L1519.0,992.5 L1520.5,992.5 L1522.0,992.5 L1523.5,992.5 L1525.0,992.5 L1526.5,992.5 L1528.0,992.5 L1529.5,992.5 L1531.0,992.5 L1532.5,992.5 L1534.0,992.5 L1535.5,992.5 L1537.0,992.5 L1538.5,992.5 L1540.0,992.5 L1541.5,992.5 L1543.0,992.5"/><use href="#c7" transform="translate(1,0)"/></g>
<g clip-path="url(#ca)" fill="none" stroke="#008000" stroke-width="5.4" stroke-linejoin="round"><path id="c8" transform="translate(-0.5,0)" d="M218.5,744.2 L220.0,744.5 L221.5,744.1 L223.0,744.5 L224.5,745.1 L226.0,745.3 L227.5,744.5 L229.0,744.7 L230.5,744.6 L232.0,745.2 L233.5,744.9 L235.0,745.5 L236.5,745.8 L238.0,745.5 L239.5,746.1 L241.0,746.0 L242.5,745.4 L244.0,746.2 L245.5,745.9 L247.0,746.2 L248.5,746.1 L250.0,746.6 L251.5,746.4 L253.0,746.1 L254.5,746.6 L256.0,746.9 L257.5,746.4 L259.0,746.4 L260.5,746.6 L262.0,747.3 L263.5,747.4 L265.0,747.1 L266.5,747.4 L268.0,747.4 L269.5,746.9 L271.0,746.6 L272.5,747.3 L274.0,747.3 L275.5,747.1 L277.0,747.0 L278.5,747.2 L280.0,747.4 L281.5,747.2 L283.0,747.2 L284.5,747.5 L286.0,748.0 L287.5,747.7 L289.0,747.4 L290.5,747.5 L292.0,747.7 L293.5,747.5 L295.0,747.5 L296.5,747.9 L298.0,747.5 L299.5,748.0 L301.0,747.9 L302.5,748.4 L304.0,748.5 L305.5,748.5 L307.0,748.6 L308.5,748.3 L310.0,748.7 L311.5,748.3 L313.0,748.7 L314.5,748.4 L316.0,748.6 L317.5,748.2 L319.0,748.4 L320.5,749.3 L322.0,748.4 L323.5,748.9 L325.0,748.9 L326.5,748.9 L328.0,748.6 L329.5,748.7 L331.0,748.1 L332.5,748.1 L334.0,748.2 L335.5,748.1 L337.0,748.0 L338.5,748.0 L340.0,748.5 L341.5,748.0 L343.0,748.9 L344.5,748.5 L346.0,748.2 L347.5,748.3 L349.0,747.7 L350.5,748.4 L352.0,748.3 L353.5,748.0 L355.0,747.7 L356.5,748.1 L358.0,747.9 L359.5,747.8 L361.0,748.1 L362.5,747.8 L364.0,747.7 L365.5,748.1 L367.0,748.0 L368.5,748.2 L370.0,749.2 L371.5,749.6 L373.0,750.2 L374.5,750.3 L376.0,750.2 L377.5,750.0 L379.0,750.7 L380.5,751.5 L382.0,751.7 L383.5,751.6 L385.0,751.9 L386.5,752.0 L388.0,752.3 L389.5,752.6 L391.0,754.0 L392.5,754.3 L394.0,754.2 L395.5,755.1 L397.0,755.3 L398.5,756.2 L400.0,757.5 L401.5,758.2 L403.0,758.8 L404.5,759.4 L406.0,760.9 L407.5,762.2 L409.0,762.6 L410.5,763.3 L412.0,764.3 L413.5,765.4 L415.0,767.6 L416.5,768.2 L418.0,769.7 L419.5,770.1 L421.0,771.4 L422.5,773.2 L424.0,774.7 L425.5,775.3 L427.0,776.4 L428.5,778.8 L430.0,779.6 L431.5,781.7 L433.0,782.6 L434.5,784.9 L436.0,786.7 L437.5,788.2 L439.0,789.4 L440.5,791.4 L442.0,792.3 L443.5,794.0 L445.0,795.8 L446.5,797.9 L448.0,798.8 L449.5,801.4 L451.0,803.1 L452.5,805.2 L454.0,806.4 L455.5,808.3 L457.0,810.5 L458.5,813.4 L460.0,815.7 L461.5,817.6 L463.0,819.4 L464.5,821.3 L466.0,824.1 L467.5,826.2 L469.0,827.4 L470.5,829.7 L472.0,832.5 L473.5,834.6 L475.0,836.0 L476.5,838.0 L478.0,840.2 L479.5,842.3 L481.0,843.9 L482.5,847.0 L484.0,849.0 L485.5,851.7 L487.0,853.5 L488.5,856.9 L490.0,859.1 L491.5,861.1 L493.0,864.3 L494.5,866.3 L496.0,868.7 L497.5,870.0 L499.0,872.3 L500.5,875.3 L502.0,877.1 L503.5,879.6 L505.0,881.3 L506.5,884.3 L508.0,885.6 L509.5,887.8 L511.0,888.7 L512.5,890.9 L514.0,892.1 L515.5,894.6 L517.0,895.6 L518.5,896.5 L520.0,897.9 L521.5,899.7 L523.0,900.4 L524.5,901.7 L526.0,903.1 L527.5,904.2 L529.0,905.2 L530.5,906.2 L532.0,906.7 L533.5,907.8 L535.0,907.9 L536.5,908.8 L538.0,910.1 L539.5,909.9 L541.0,910.5 L542.5,911.1 L544.0,911.8 L545.5,911.7 L547.0,912.1 L548.5,913.0 L550.0,913.0 L551.5,913.9 L553.0,914.3 L554.5,914.3 L556.0,914.7 L557.5,914.5 L559.0,914.3 L560.5,915.1 L562.0,915.2 L563.5,915.4 L565.0,915.5 L566.5,915.6 L568.0,915.7 L569.5,915.7 L571.0,915.8 L572.5,915.8 L574.0,915.9 L575.5,915.9 L577.0,916.0 L578.5,916.0 L580.0,916.0 L581.5,916.1 L583.0,916.1 L584.5,916.1 L586.0,916.1 L587.5,916.1 L589.0,916.2 L590.5,916.2 L592.0,916.2 L593.5,916.2 L595.0,916.2 L596.5,916.2 L598.0,916.2 L599.5,916.2 L601.0,916.2 L602.5,916.3 L604.0,916.3 L605.5,916.3 L607.0,916.3 L608.5,916.3 L610.0,916.3 L611.5,916.3 L613.0,916.3 L614.5,916.3 L616.0,916.3 L617.5,916.3 L619.0,916.3 L620.5,916.3 L622.0,916.3 L623.5,916.3 L625.0,916.2 L626.5,916.2 L628.0,916.2 L629.5,916.1 L631.0,916.1 L632.5,916.1 L634.0,916.0 L635.5,916.0 L637.0,916.0 L638.5,915.9 L640.0,915.9 L641.5,915.9 L643.0,915.9 L644.5,915.9 L646.0,915.9 L647.5,915.9 L649.0,915.9 L650.5,915.9 L652.0,915.9 L653.5,915.9 L655.0,915.9 L656.5,915.9 L658.0,915.9 L659.5,915.9 L661.0,915.9 L662.5,915.9 L664.0,915.9 L665.5,915.9 L667.0,915.9 L668.5,915.9 L670.0,915.9 L671.5,915.9 L673.0,915.9 L674.5,915.9 L676.0,915.9 L677.5,915.9 L679.0,915.9 L680.5,915.9 L682.0,915.9 L683.5,915.9 L685.0,915.8 L686.5,915.8 L688.0,915.7 L689.5,915.6 L691.0,915.6 L692.5,915.5 L694.0,915.4 L695.5,915.3 L697.0,915.3 L698.5,915.2 L700.0,915.2 L701.5,915.2 L703.0,915.2 L704.5,915.1 L706.0,915.1 L707.5,915.1 L709.0,915.1 L710.5,915.1 L712.0,915.1 L713.5,915.0 L715.0,915.0 L716.5,915.0 L718.0,915.0 L719.5,915.0 L721.0,915.0 L722.5,915.0 L724.0,915.0 L725.5,915.0 L727.0,915.0 L728.5,914.9 L730.0,914.9 L731.5,914.9 L733.0,914.9 L734.5,914.9 L736.0,914.9 L737.5,914.8 L739.0,914.8 L740.5,914.8 L742.0,914.8 L743.5,914.7 L745.0,914.7 L746.5,914.7 L748.0,914.6 L749.5,914.6 L751.0,914.5 L752.5,914.5 L754.0,914.4 L755.5,914.4 L757.0,914.3 L758.5,914.3 L760.0,914.2 L761.5,914.1 L763.0,914.1 L764.5,914.0 L766.0,913.9 L767.5,913.9 L769.0,913.8 L770.5,913.7 L772.0,913.6 L773.5,913.6 L775.0,913.5 L776.5,913.4 L778.0,913.3 L779.5,913.3 L781.0,913.2 L782.5,913.1 L784.0,913.0 L785.5,912.9 L787.0,912.9 L788.5,912.8 L790.0,912.7 L791.5,912.6 L793.0,912.5 L794.5,912.4 L796.0,912.3 L797.5,912.2 L799.0,912.1 L800.5,911.9 L802.0,911.8 L803.5,911.7 L805.0,911.6 L806.5,911.5 L808.0,911.4 L809.5,911.3 L811.0,911.2 L812.5,911.0 L814.0,910.9 L815.5,910.8 L817.0,910.7 L818.5,910.6 L820.0,910.5 L821.5,910.4 L823.0,910.3 L824.5,910.1 L826.0,910.0 L827.5,909.9 L829.0,909.8 L830.5,909.7 L832.0,909.6 L833.5,909.5 L835.0,909.3 L836.5,909.2 L838.0,909.1 L839.5,909.0 L841.0,908.9 L842.5,908.7 L844.0,908.6 L845.5,908.5 L847.0,908.4 L848.5,908.3 L850.0,908.1 L851.5,908.0 L853.0,907.9 L854.5,907.8 L856.0,907.7 L857.5,907.6 L859.0,907.5 L860.5,907.4 L862.0,907.3 L863.5,907.2 L865.0,907.0 L866.5,906.9 L868.0,906.8 L869.5,906.7 L871.0,906.6 L872.5,906.5 L874.0,906.4 L875.5,906.2 L877.0,906.1 L878.5,906.0 L880.0,905.9 L881.5,905.8 L883.0,905.7 L884.5,905.6 L886.0,905.5 L887.5,905.4 L889.0,905.3 L890.5,905.2 L892.0,905.1 L893.5,905.0 L895.0,905.0 L896.5,904.9 L898.0,904.8 L899.5,904.8 L901.0,904.7 L902.5,904.7 L904.0,904.6 L905.5,904.6 L907.0,904.5 L908.5,904.5 L910.0,904.5 L911.5,904.4 L913.0,904.4 L914.5,904.3 L916.0,904.3 L917.5,904.3 L919.0,904.2 L920.5,904.2 L922.0,904.2 L923.5,904.2 L925.0,904.1 L926.5,904.1 L928.0,904.1 L929.5,904.1 L931.0,904.1 L932.5,904.1 L934.0,904.1 L935.5,904.1 L937.0,904.2 L938.5,904.2 L940.0,904.2 L941.5,904.3 L943.0,904.3 L944.5,904.4 L946.0,904.5 L947.5,904.5 L949.0,904.6 L950.5,904.6 L952.0,904.7 L953.5,904.8 L955.0,904.8 L956.5,904.9 L958.0,904.9 L959.5,905.0 L961.0,905.0 L962.5,905.1 L964.0,905.2 L965.5,905.2 L967.0,905.3 L968.5,905.4 L970.0,905.5 L971.5,905.6 L973.0,905.6 L974.5,905.7 L976.0,905.8 L977.5,905.9 L979.0,906.0 L980.5,906.1 L982.0,906.3 L983.5,906.4 L985.0,906.6 L986.5,906.8 L988.0,907.0 L989.5,907.2 L991.0,907.4 L992.5,907.6 L994.0,907.8 L995.5,908.1 L997.0,908.3 L998.5,908.5 L1000.0,908.7 L1001.5,908.8 L1003.0,909.0 L1004.5,909.2 L1006.0,909.4 L1007.5,909.5 L1009.0,909.7 L1010.5,909.9 L1012.0,910.1 L1013.5,910.2 L1015.0,910.4 L1016.5,910.6 L1018.0,910.7 L1019.5,910.9 L1021.0,911.0 L1022.5,911.2 L1024.0,911.4 L1025.5,911.5 L1027.0,911.7 L1028.5,911.9 L1030.0,912.0 L1031.5,912.2 L1033.0,912.4 L1034.5,912.5 L1036.0,912.7 L1037.5,912.9 L1039.0,913.0 L1040.5,913.2 L1042.0,913.4 L1043.5,913.5 L1045.0,913.7 L1046.5,913.9 L1048.0,914.0 L1049.5,914.2 L1051.0,914.4 L1052.5,914.6 L1054.0,914.7 L1055.5,914.9 L1057.0,915.1 L1058.5,915.3 L1060.0,915.5 L1061.5,915.6 L1063.0,915.8 L1064.5,916.0 L1066.0,916.1 L1067.5,916.3 L1069.0,916.5 L1070.5,916.7 L1072.0,916.8 L1073.5,917.0 L1075.0,917.2 L1076.5,917.3 L1078.0,917.5 L1079.5,917.7 L1081.0,917.8 L1082.5,918.0 L1084.0,918.1 L1085.5,918.3 L1087.0,918.4 L1088.5,918.6 L1090.0,918.7 L1091.5,918.9 L1093.0,919.0 L1094.5,919.2 L1096.0,919.3 L1097.5,919.5 L1099.0,919.6 L1100.5,919.8 L1102.0,919.9 L1103.5,920.1 L1105.0,920.2 L1106.5,920.4 L1108.0,920.5 L1109.5,920.7 L1111.0,920.8 L1112.5,921.0 L1114.0,921.1 L1115.5,921.2 L1117.0,921.4 L1118.5,921.5 L1120.0,921.7 L1121.5,921.8 L1123.0,922.0 L1124.5,922.1 L1126.0,922.3 L1127.5,922.5 L1129.0,922.6 L1130.5,922.8 L1132.0,922.9 L1133.5,923.1 L1135.0,923.3 L1136.5,923.4 L1138.0,923.6 L1139.5,923.7 L1141.0,923.9 L1142.5,924.1 L1144.0,924.2 L1145.5,924.4 L1147.0,924.5 L1148.5,924.7 L1150.0,924.8 L1151.5,925.0 L1153.0,925.1 L1154.5,925.3 L1156.0,925.4 L1157.5,925.6 L1159.0,925.7 L1160.5,925.8 L1162.0,926.0 L1163.5,926.1 L1165.0,926.2 L1166.5,926.3 L1168.0,926.4 L1169.5,926.6 L1171.0,926.7 L1172.5,926.8 L1174.0,926.9 L1175.5,927.0 L1177.0,927.1 L1178.5,927.2 L1180.0,927.3 L1181.5,927.5 L1183.0,927.6 L1184.5,927.7 L1186.0,927.8 L1187.5,927.9 L1189.0,928.0 L1190.5,928.1 L1192.0,928.2 L1193.5,928.3 L1195.0,928.4 L1196.5,928.5 L1198.0,928.6 L1199.5,928.7 L1201.0,928.8 L1202.5,929.0 L1204.0,929.1 L1205.5,929.2 L1207.0,929.3 L1208.5,929.4 L1210.0,929.5 L1211.5,929.7 L1213.0,929.8 L1214.5,929.9 L1216.0,930.0 L1217.5,930.2 L1219.0,930.3 L1220.5,930.4 L1222.0,930.5 L1223.5,930.6 L1225.0,930.8 L1226.5,930.9 L1228.0,931.0 L1229.5,931.1 L1231.0,931.2 L1232.5,931.3 L1234.0,931.4 L1235.5,931.5 L1237.0,931.6 L1238.5,931.7 L1240.0,931.8 L1241.5,931.9 L1243.0,932.0 L1244.5,932.0 L1246.0,932.1 L1247.5,932.2 L1249.0,932.2 L1250.5,932.3 L1252.0,932.4 L1253.5,932.4 L1255.0,932.5 L1256.5,932.5 L1258.0,932.6 L1259.5,932.7 L1261.0,932.7 L1262.5,932.8 L1264.0,932.8 L1265.5,932.9 L1267.0,932.9 L1268.5,933.0 L1270.0,933.1 L1271.5,933.1 L1273.0,933.2 L1274.5,933.2 L1276.0,933.3 L1277.5,933.4 L1279.0,933.4 L1280.5,933.5 L1282.0,933.6 L1283.5,933.7 L1285.0,933.8 L1286.5,933.9 L1288.0,934.0 L1289.5,934.1 L1291.0,934.2 L1292.5,934.3 L1294.0,934.4 L1295.5,934.5 L1297.0,934.6 L1298.5,934.7 L1300.0,934.8 L1301.5,934.9 L1303.0,935.0 L1304.5,935.1 L1306.0,935.2 L1307.5,935.3 L1309.0,935.4 L1310.5,935.5 L1312.0,935.6 L1313.5,935.6 L1315.0,935.7 L1316.5,935.8 L1318.0,935.8 L1319.5,935.9 L1321.0,935.9 L1322.5,936.0 L1324.0,936.1 L1325.5,936.1 L1327.0,936.2 L1328.5,936.2 L1330.0,936.3 L1331.5,936.3 L1333.0,936.4 L1334.5,936.4 L1336.0,936.5 L1337.5,936.5 L1339.0,936.6 L1340.5,936.6 L1342.0,936.7 L1343.5,936.7 L1345.0,936.8 L1346.5,936.8 L1348.0,936.9 L1349.5,936.9 L1351.0,937.0 L1352.5,937.0 L1354.0,937.0 L1355.5,937.1 L1357.0,937.1 L1358.5,937.2 L1360.0,937.2 L1361.5,937.3 L1363.0,937.3 L1364.5,937.3 L1366.0,937.4 L1367.5,937.4 L1369.0,937.5 L1370.5,937.5 L1372.0,937.5 L1373.5,937.6 L1375.0,937.6 L1376.5,937.7 L1378.0,937.7 L1379.5,937.7 L1381.0,937.8 L1382.5,937.8 L1384.0,937.8 L1385.5,937.9 L1387.0,937.9 L1388.5,937.9 L1390.0,938.0 L1391.5,938.0 L1393.0,938.0 L1394.5,938.1 L1396.0,938.1 L1397.5,938.1 L1399.0,938.2 L1400.5,938.2 L1402.0,938.2 L1403.5,938.3 L1405.0,938.3 L1406.5,938.3 L1408.0,938.3 L1409.5,938.4 L1411.0,938.4 L1412.5,938.4 L1414.0,938.4 L1415.5,938.5 L1417.0,938.5 L1418.5,938.5 L1420.0,938.5 L1421.5,938.5 L1423.0,938.6 L1424.5,938.6 L1426.0,938.6 L1427.5,938.6 L1429.0,938.7 L1430.5,938.7 L1432.0,938.7 L1433.5,938.7 L1435.0,938.7 L1436.5,938.8 L1438.0,938.8 L1439.5,938.8 L1441.0,938.8 L1442.5,938.8 L1444.0,938.9 L1445.5,938.9 L1447.0,938.9 L1448.5,938.9 L1450.0,939.0 L1451.5,939.0 L1453.0,939.0 L1454.5,939.0 L1456.0,939.1 L1457.5,939.1 L1459.0,939.1 L1460.5,939.2 L1462.0,939.2 L1463.5,939.2 L1465.0,939.3 L1466.5,939.3 L1468.0,939.3 L1469.5,939.4 L1471.0,939.4 L1472.5,939.4 L1474.0,939.5 L1475.5,939.5 L1477.0,939.5 L1478.5,939.6 L1480.0,939.6 L1481.5,939.6 L1483.0,939.7 L1484.5,939.7 L1486.0,939.7 L1487.5,939.8 L1489.0,939.8 L1490.5,939.8 L1492.0,939.9 L1493.5,939.9 L1495.0,939.9 L1496.5,940.0 L1498.0,940.0 L1499.5,940.0 L1501.0,940.0 L1502.5,940.1 L1504.0,940.1 L1505.5,940.1 L1507.0,940.1 L1508.5,940.2 L1510.0,940.2 L1511.5,940.2 L1513.0,940.2 L1514.5,940.3 L1516.0,940.3 L1517.5,940.3 L1519.0,940.3 L1520.5,940.4 L1522.0,940.4 L1523.5,940.4 L1525.0,940.4 L1526.5,940.5 L1528.0,940.5 L1529.5,940.5 L1531.0,940.5 L1532.5,940.6 L1534.0,940.6 L1535.5,940.6 L1537.0,940.6 L1538.5,940.6 L1540.0,940.7 L1541.5,940.7 L1543.0,940.7"/><use href="#c8" transform="translate(1,0)"/></g>
<g clip-path="url(#ca)" fill="none" stroke="#ff00ff" stroke-width="5.4" stroke-linejoin="round"><path id="c9" transform="translate(-0.5,0)" d="M218.5,684.3 L220.0,683.9 L221.5,684.6 L223.0,684.5 L224.5,684.6 L226.0,684.2 L227.5,685.2 L229.0,684.2 L230.5,684.7 L232.0,685.0 L233.5,685.6 L235.0,685.0 L236.5,685.9 L238.0,686.2 L239.5,685.3 L241.0,685.9 L242.5,685.3 L244.0,685.8 L245.5,685.5 L247.0,686.7 L248.5,686.1 L250.0,686.8 L251.5,686.7 L253.0,686.9 L254.5,686.1 L256.0,686.1 L257.5,686.8 L259.0,686.3 L260.5,687.1 L262.0,686.8 L263.5,687.0 L265.0,687.5 L266.5,687.1 L268.0,686.7 L269.5,686.8 L271.0,687.3 L272.5,687.4 L274.0,687.6 L275.5,687.4 L277.0,687.8 L278.5,687.6 L280.0,687.9 L281.5,688.2 L283.0,687.7 L284.5,688.1 L286.0,688.4 L287.5,688.7 L289.0,688.3 L290.5,688.8 L292.0,689.0 L293.5,689.4 L295.0,688.7 L296.5,689.0 L298.0,688.5 L299.5,688.8 L301.0,688.3 L302.5,689.1 L304.0,688.5 L305.5,688.9 L307.0,688.3 L308.5,688.9 L310.0,688.3 L311.5,688.2 L313.0,688.5 L314.5,688.8 L316.0,688.9 L317.5,688.6 L319.0,688.0 L320.5,688.6 L322.0,688.2 L323.5,688.8 L325.0,689.0 L326.5,688.5 L328.0,688.6 L329.5,687.9 L331.0,688.5 L332.5,688.0 L334.0,688.5 L335.5,688.2 L337.0,688.6 L338.5,687.7 L340.0,687.7 L341.5,688.4 L343.0,688.1 L344.5,688.1 L346.0,688.4 L347.5,687.9 L349.0,688.3 L350.5,687.9 L352.0,688.4 L353.5,688.0 L355.0,687.4 L356.5,687.6 L358.0,688.3 L359.5,687.7 L361.0,687.6 L362.5,688.0 L364.0,688.1 L365.5,688.5 L367.0,688.4 L368.5,688.4 L370.0,688.8 L371.5,689.0 L373.0,689.8 L374.5,690.1 L376.0,689.9 L377.5,689.5 L379.0,690.6 L380.5,690.9 L382.0,691.5 L383.5,691.4 L385.0,691.5 L386.5,692.6 L388.0,692.4 L389.5,693.6 L391.0,694.1 L392.5,694.1 L394.0,695.3 L395.5,694.9 L397.0,696.3 L398.5,696.3 L400.0,697.3 L401.5,698.0 L403.0,698.9 L404.5,699.7 L406.0,699.4 L407.5,700.2 L409.0,701.7 L410.5,702.0 L412.0,703.7 L413.5,704.6 L415.0,705.8 L416.5,706.7 L418.0,707.7 L419.5,709.7 L421.0,710.7 L422.5,711.2 L424.0,712.6 L425.5,714.6 L427.0,715.5 L428.5,717.0 L430.0,718.9 L431.5,719.8 L433.0,721.9 L434.5,723.1 L436.0,724.4 L437.5,725.4 L439.0,727.2 L440.5,729.2 L442.0,731.1 L443.5,731.6 L445.0,733.3 L446.5,735.7 L448.0,737.5 L449.5,738.3 L451.0,740.8 L452.5,742.4 L454.0,743.8 L455.5,745.0 L457.0,746.7 L458.5,748.2 L460.0,750.5 L461.5,751.5 L463.0,753.3 L464.5,755.8 L466.0,757.7 L467.5,759.6 L469.0,761.4 L470.5,762.5 L472.0,764.6 L473.5,767.3 L475.0,769.8 L476.5,772.1 L478.0,774.3 L479.5,777.3 L481.0,778.8 L482.5,781.1 L484.0,783.4 L485.5,785.4 L487.0,787.5 L488.5,789.3 L490.0,791.5 L491.5,793.1 L493.0,795.7 L494.5,798.1 L496.0,799.5 L497.5,801.6 L499.0,803.4 L500.5,805.6 L502.0,807.1 L503.5,808.8 L505.0,809.8 L506.5,812.0 L508.0,812.7 L509.5,814.5 L511.0,816.4 L512.5,817.4 L514.0,819.4 L515.5,820.7 L517.0,821.2 L518.5,822.4 L520.0,823.3 L521.5,825.3 L523.0,825.7 L524.5,826.8 L526.0,827.6 L527.5,828.3 L529.0,829.5 L530.5,830.1 L532.0,831.3 L533.5,831.6 L535.0,832.7 L536.5,834.0 L538.0,834.0 L539.5,835.3 L541.0,834.8 L542.5,835.9 L544.0,836.5 L545.5,837.4 L547.0,837.7 L548.5,837.6 L550.0,838.3 L551.5,838.9 L553.0,839.0 L554.5,839.5 L556.0,839.8 L557.5,839.6 L559.0,840.1 L560.5,840.1 L562.0,840.4 L563.5,840.6 L565.0,840.9 L566.5,841.1 L568.0,841.3 L569.5,841.5 L571.0,841.7 L572.5,841.8 L574.0,842.0 L575.5,842.1 L577.0,842.3 L578.5,842.4 L580.0,842.5 L581.5,842.7 L583.0,842.8 L584.5,842.9 L586.0,843.0 L587.5,843.1 L589.0,843.2 L590.5,843.4 L592.0,843.5 L593.5,843.6 L595.0,843.7 L596.5,843.7 L598.0,843.8 L599.5,843.9 L601.0,844.0 L602.5,844.1 L604.0,844.1 L605.5,844.2 L607.0,844.2 L608.5,844.3 L610.0,844.3 L611.5,844.4 L613.0,844.4 L614.5,844.4 L616.0,844.5 L617.5,844.5 L619.0,844.5 L620.5,844.6 L622.0,844.6 L623.5,844.6 L625.0,844.7 L626.5,844.7 L628.0,844.7 L629.5,844.8 L631.0,844.8 L632.5,844.8 L634.0,844.9 L635.5,844.9 L637.0,845.0 L638.5,845.0 L640.0,845.1 L641.5,845.1 L643.0,845.2 L644.5,845.2 L646.0,845.2 L647.5,845.3 L649.0,845.3 L650.5,845.3 L652.0,845.4 L653.5,845.4 L655.0,845.4 L656.5,845.4 L658.0,845.4 L659.5,845.4 L661.0,845.4 L662.5,845.4 L664.0,845.4 L665.5,845.4 L667.0,845.4 L668.5,845.4 L670.0,845.4 L671.5,845.4 L673.0,845.3 L674.5,845.3 L676.0,845.3 L677.5,845.3 L679.0,845.3 L680.5,845.3 L682.0,845.3 L683.5,845.2 L685.0,845.2 L686.5,845.2 L688.0,845.1 L689.5,845.1 L691.0,845.0 L692.5,845.0 L694.0,844.9 L695.5,844.8 L697.0,844.8 L698.5,844.7 L700.0,844.7 L701.5,844.7 L703.0,844.6 L704.5,844.6 L706.0,844.6 L707.5,844.5 L709.0,844.5 L710.5,844.5 L712.0,844.5 L713.5,844.4 L715.0,844.4 L716.5,844.4 L718.0,844.3 L719.5,844.3 L721.0,844.3 L722.5,844.3 L724.0,844.2 L725.5,844.2 L727.0,844.2 L728.5,844.2 L730.0,844.1 L731.5,844.1 L733.0,844.1 L734.5,844.0 L736.0,844.0 L737.5,844.0 L739.0,843.9 L740.5,843.9 L742.0,843.9 L743.5,843.8 L745.0,843.8 L746.5,843.8 L748.0,843.7 L749.5,843.7 L751.0,843.7 L752.5,843.6 L754.0,843.6 L755.5,843.5 L757.0,843.5 L758.5,843.5 L760.0,843.4 L761.5,843.4 L763.0,843.3 L764.5,843.3 L766.0,843.2 L767.5,843.2 L769.0,843.2 L770.5,843.1 L772.0,843.0 L773.5,843.0 L775.0,842.9 L776.5,842.9 L778.0,842.8 L779.5,842.8 L781.0,842.7 L782.5,842.6 L784.0,842.5 L785.5,842.5 L787.0,842.4 L788.5,842.3 L790.0,842.2 L791.5,842.0 L793.0,841.9 L794.5,841.8 L796.0,841.7 L797.5,841.6 L799.0,841.4 L800.5,841.3 L802.0,841.1 L803.5,841.0 L805.0,840.9 L806.5,840.7 L808.0,840.6 L809.5,840.4 L811.0,840.3 L812.5,840.1 L814.0,840.0 L815.5,839.8 L817.0,839.7 L818.5,839.5 L820.0,839.4 L821.5,839.3 L823.0,839.1 L824.5,839.0 L826.0,838.8 L827.5,838.7 L829.0,838.5 L830.5,838.4 L832.0,838.2 L833.5,838.1 L835.0,837.9 L836.5,837.7 L838.0,837.6 L839.5,837.4 L841.0,837.2 L842.5,837.1 L844.0,836.9 L845.5,836.8 L847.0,836.6 L848.5,836.4 L850.0,836.3 L851.5,836.1 L853.0,836.0 L854.5,835.8 L856.0,835.7 L857.5,835.5 L859.0,835.4 L860.5,835.3 L862.0,835.1 L863.5,835.0 L865.0,834.9 L866.5,834.8 L868.0,834.6 L869.5,834.5 L871.0,834.4 L872.5,834.2 L874.0,834.1 L875.5,834.0 L877.0,833.9 L878.5,833.7 L880.0,833.6 L881.5,833.5 L883.0,833.4 L884.5,833.3 L886.0,833.2 L887.5,833.0 L889.0,832.9 L890.5,832.8 L892.0,832.7 L893.5,832.6 L895.0,832.6 L896.5,832.5 L898.0,832.4 L899.5,832.3 L901.0,832.2 L902.5,832.2 L904.0,832.1 L905.5,832.0 L907.0,832.0 L908.5,831.9 L910.0,831.8 L911.5,831.8 L913.0,831.7 L914.5,831.6 L916.0,831.6 L917.5,831.5 L919.0,831.4 L920.5,831.4 L922.0,831.4 L923.5,831.3 L925.0,831.3 L926.5,831.2 L928.0,831.2 L929.5,831.2 L931.0,831.2 L932.5,831.2 L934.0,831.2 L935.5,831.2 L937.0,831.2 L938.5,831.3 L940.0,831.3 L941.5,831.3 L943.0,831.4 L944.5,831.4 L946.0,831.4 L947.5,831.5 L949.0,831.5 L950.5,831.6 L952.0,831.6 L953.5,831.6 L955.0,831.7 L956.5,831.8 L958.0,831.8 L959.5,831.9 L961.0,832.0 L962.5,832.0 L964.0,832.1 L965.5,832.2 L967.0,832.3 L968.5,832.4 L970.0,832.5 L971.5,832.6 L973.0,832.7 L974.5,832.8 L976.0,832.9 L977.5,833.0 L979.0,833.1 L980.5,833.2 L982.0,833.4 L983.5,833.5 L985.0,833.7 L986.5,833.9 L988.0,834.1 L989.5,834.3 L991.0,834.5 L992.5,834.7 L994.0,835.0 L995.5,835.2 L997.0,835.4 L998.5,835.6 L1000.0,835.8 L1001.5,835.9 L1003.0,836.1 L1004.5,836.3 L1006.0,836.5 L1007.5,836.6 L1009.0,836.8 L1010.5,837.0 L1012.0,837.1 L1013.5,837.3 L1015.0,837.5 L1016.5,837.6 L1018.0,837.8 L1019.5,837.9 L1021.0,838.1 L1022.5,838.2 L1024.0,838.4 L1025.5,838.6 L1027.0,838.7 L1028.5,838.9 L1030.0,839.1 L1031.5,839.2 L1033.0,839.4 L1034.5,839.6 L1036.0,839.7 L1037.5,839.9 L1039.0,840.1 L1040.5,840.3 L1042.0,840.5 L1043.5,840.7 L1045.0,840.9 L1046.5,841.1 L1048.0,841.3 L1049.5,841.5 L1051.0,841.7 L1052.5,841.9 L1054.0,842.1 L1055.5,842.3 L1057.0,842.5 L1058.5,842.7 L1060.0,842.9 L1061.5,843.1 L1063.0,843.4 L1064.5,843.6 L1066.0,843.8 L1067.5,844.0 L1069.0,844.2 L1070.5,844.4 L1072.0,844.7 L1073.5,844.9 L1075.0,845.1 L1076.5,845.3 L1078.0,845.5 L1079.5,845.7 L1081.0,845.9 L1082.5,846.1 L1084.0,846.3 L1085.5,846.6 L1087.0,846.8 L1088.5,847.0 L1090.0,847.2 L1091.5,847.4 L1093.0,847.6 L1094.5,847.8 L1096.0,848.1 L1097.5,848.3 L1099.0,848.5 L1100.5,848.7 L1102.0,848.9 L1103.5,849.1 L1105.0,849.3 L1106.5,849.5 L1108.0,849.7 L1109.5,849.9 L1111.0,850.1 L1112.5,850.3 L1114.0,850.5 L1115.5,850.7 L1117.0,850.9 L1118.5,851.1 L1120.0,851.3 L1121.5,851.4 L1123.0,851.6 L1124.5,851.8 L1126.0,851.9 L1127.5,852.1 L1129.0,852.3 L1130.5,852.4 L1132.0,852.6 L1133.5,852.7 L1135.0,852.9 L1136.5,853.0 L1138.0,853.1 L1139.5,853.3 L1141.0,853.4 L1142.5,853.6 L1144.0,853.7 L1145.5,853.9 L1147.0,854.0 L1148.5,854.1 L1150.0,854.3 L1151.5,854.4 L1153.0,854.6 L1154.5,854.7 L1156.0,854.9 L1157.5,855.0 L1159.0,855.2 L1160.5,855.3 L1162.0,855.5 L1163.5,855.6 L1165.0,855.8 L1166.5,855.9 L1168.0,856.1 L1169.5,856.3 L1171.0,856.4 L1172.5,856.6 L1174.0,856.8 L1175.5,856.9 L1177.0,857.1 L1178.5,857.3 L1180.0,857.5 L1181.5,857.6 L1183.0,857.8 L1184.5,858.0 L1186.0,858.1 L1187.5,858.3 L1189.0,858.5 L1190.5,858.6 L1192.0,858.8 L1193.5,859.0 L1195.0,859.1 L1196.5,859.3 L1198.0,859.4 L1199.5,859.6 L1201.0,859.7 L1202.5,859.9 L1204.0,860.0 L1205.5,860.2 L1207.0,860.3 L1208.5,860.5 L1210.0,860.6 L1211.5,860.7 L1213.0,860.9 L1214.5,861.0 L1216.0,861.1 L1217.5,861.3 L1219.0,861.4 L1220.5,861.6 L1222.0,861.7 L1223.5,861.8 L1225.0,861.9 L1226.5,862.1 L1228.0,862.2 L1229.5,862.3 L1231.0,862.5 L1232.5,862.6 L1234.0,862.7 L1235.5,862.9 L1237.0,863.0 L1238.5,863.1 L1240.0,863.2 L1241.5,863.4 L1243.0,863.5 L1244.5,863.6 L1246.0,863.7 L1247.5,863.9 L1249.0,864.0 L1250.5,864.1 L1252.0,864.2 L1253.5,864.3 L1255.0,864.5 L1256.5,864.6 L1258.0,864.7 L1259.5,864.8 L1261.0,864.9 L1262.5,865.0 L1264.0,865.2 L1265.5,865.3 L1267.0,865.4 L1268.5,865.5 L1270.0,865.6 L1271.5,865.8 L1273.0,865.9 L1274.5,866.0 L1276.0,866.1 L1277.5,866.3 L1279.0,866.4 L1280.5,866.5 L1282.0,866.7 L1283.5,866.8 L1285.0,867.0 L1286.5,867.1 L1288.0,867.3 L1289.5,867.5 L1291.0,867.6 L1292.5,867.8 L1294.0,867.9 L1295.5,868.1 L1297.0,868.3 L1298.5,868.4 L1300.0,868.6 L1301.5,868.7 L1303.0,868.9 L1304.5,869.1 L1306.0,869.2 L1307.5,869.3 L1309.0,869.5 L1310.5,869.6 L1312.0,869.7 L1313.5,869.8 L1315.0,869.9 L1316.5,870.1 L1318.0,870.2 L1319.5,870.3 L1321.0,870.4 L1322.5,870.5 L1324.0,870.6 L1325.5,870.7 L1327.0,870.8 L1328.5,870.8 L1330.0,870.9 L1331.5,871.0 L1333.0,871.1 L1334.5,871.2 L1336.0,871.3 L1337.5,871.4 L1339.0,871.5 L1340.5,871.5 L1342.0,871.6 L1343.5,871.7 L1345.0,871.8 L1346.5,871.9 L1348.0,871.9 L1349.5,872.0 L1351.0,872.1 L1352.5,872.2 L1354.0,872.2 L1355.5,872.3 L1357.0,872.4 L1358.5,872.5 L1360.0,872.5 L1361.5,872.6 L1363.0,872.7 L1364.5,872.7 L1366.0,872.8 L1367.5,872.9 L1369.0,872.9 L1370.5,873.0 L1372.0,873.1 L1373.5,873.1 L1375.0,873.2 L1376.5,873.3 L1378.0,873.3 L1379.5,873.4 L1381.0,873.5 L1382.5,873.5 L1384.0,873.6 L1385.5,873.7 L1387.0,873.7 L1388.5,873.8 L1390.0,873.8 L1391.5,873.9 L1393.0,873.9 L1394.5,874.0 L1396.0,874.1 L1397.5,874.1 L1399.0,874.2 L1400.5,874.2 L1402.0,874.3 L1403.5,874.3 L1405.0,874.4 L1406.5,874.4 L1408.0,874.5 L1409.5,874.5 L1411.0,874.6 L1412.5,874.6 L1414.0,874.6 L1415.5,874.7 L1417.0,874.7 L1418.5,874.8 L1420.0,874.8 L1421.5,874.8 L1423.0,874.9 L1424.5,874.9 L1426.0,875.0 L1427.5,875.0 L1429.0,875.0 L1430.5,875.1 L1432.0,875.1 L1433.5,875.1 L1435.0,875.2 L1436.5,875.2 L1438.0,875.3 L1439.5,875.3 L1441.0,875.3 L1442.5,875.4 L1444.0,875.4 L1445.5,875.4 L1447.0,875.5 L1448.5,875.5 L1450.0,875.5 L1451.5,875.6 L1453.0,875.6 L1454.5,875.6 L1456.0,875.7 L1457.5,875.7 L1459.0,875.8 L1460.5,875.8 L1462.0,875.8 L1463.5,875.9 L1465.0,875.9 L1466.5,875.9 L1468.0,876.0 L1469.5,876.0 L1471.0,876.0 L1472.5,876.1 L1474.0,876.1 L1475.5,876.1 L1477.0,876.2 L1478.5,876.2 L1480.0,876.2 L1481.5,876.3 L1483.0,876.3 L1484.5,876.3 L1486.0,876.4 L1487.5,876.4 L1489.0,876.5 L1490.5,876.5 L1492.0,876.5 L1493.5,876.6 L1495.0,876.6 L1496.5,876.6 L1498.0,876.7 L1499.5,876.7 L1501.0,876.8 L1502.5,876.8 L1504.0,876.8 L1505.5,876.9 L1507.0,876.9 L1508.5,876.9 L1510.0,877.0 L1511.5,877.0 L1513.0,877.1 L1514.5,877.1 L1516.0,877.1 L1517.5,877.2 L1519.0,877.2 L1520.5,877.3 L1522.0,877.3 L1523.5,877.3 L1525.0,877.4 L1526.5,877.4 L1528.0,877.5 L1529.5,877.5 L1531.0,877.6 L1532.5,877.6 L1534.0,877.6 L1535.5,877.7 L1537.0,877.7 L1538.5,877.8 L1540.0,877.8 L1541.5,877.9 L1543.0,877.9"/><use href="#c9" transform="translate(1,0)"/></g>
<text transform="translate(135.63,53.30) scale(1.0159,1.0200)" font-size="43">2.0</text>
<text transform="translate(135.78,162.22) scale(1.0152,1.0200)" font-size="43">1.5</text>
<text transform="translate(135.79,271.15) scale(1.0129,1.0200)" font-size="43">1.0</text>
<text transform="translate(136.59,380.07) scale(0.9997,1.0200)" font-size="43">0.5</text>
<text transform="translate(135.97,489.00) scale(1.0094,1.0200)" font-size="43">0.0</text>
<text transform="translate(185.97,539.20) scale(0.9975,1.0200)" font-size="43">250</text>
<text transform="translate(306.10,539.20) scale(0.9993,1.0200)" font-size="43">300</text>
<text transform="translate(426.35,539.20) scale(0.9993,1.0200)" font-size="43">350</text>
<text transform="translate(547.79,539.20) scale(0.9802,1.0200)" font-size="43">400</text>
<text transform="translate(668.04,539.20) scale(0.9802,1.0200)" font-size="43">450</text>
<text transform="translate(786.64,539.20) scale(1.0064,1.0200)" font-size="43">500</text>
<text transform="translate(906.88,539.20) scale(1.0064,1.0200)" font-size="43">550</text>
<text transform="translate(1027.80,539.20) scale(0.9957,1.0200)" font-size="43">600</text>
<text transform="translate(1148.04,539.20) scale(0.9957,1.0200)" font-size="43">650</text>
<text transform="translate(1267.28,539.20) scale(1.0118,1.0200)" font-size="43">700</text>
<text transform="translate(1387.53,539.20) scale(1.0118,1.0200)" font-size="43">750</text>
<text transform="translate(1509.00,539.20) scale(0.9922,1.0200)" font-size="43">800</text>
<path d="M200.0,479.8 H1541.8 M200.0,44.10 H218.3 M208.0,98.56 H218.3 M200.0,153.03 H218.3 M208.0,207.49 H218.3 M200.0,261.95 H218.3 M208.0,316.41 H218.3 M200.0,370.88 H218.3 M208.0,425.34 H218.3 " stroke="#000" stroke-width="2.0" fill="none"/>
<path d="M218.3,43.10 V497.7 M278.42,479.8 V489.7 M338.55,479.8 V497.7 M398.67,479.8 V489.7 M458.79,479.8 V497.7 M518.91,479.8 V489.7 M579.04,479.8 V497.7 M639.16,479.8 V489.7 M699.28,479.8 V497.7 M759.40,479.8 V489.7 M819.53,479.8 V497.7 M879.65,479.8 V489.7 M939.77,479.8 V497.7 M999.90,479.8 V489.7 M1060.02,479.8 V497.7 M1120.14,479.8 V489.7 M1180.26,479.8 V497.7 M1240.39,479.8 V489.7 M1300.51,479.8 V497.7 M1360.63,479.8 V489.7 M1420.75,479.8 V497.7 M1480.88,479.8 V489.7 M1541.00,479.8 V497.7 " stroke="#000" stroke-width="1.6" fill="none"/>
<text transform="translate(135.63,615.50) scale(1.0159,1.0200)" font-size="43">2.0</text>
<text transform="translate(135.78,724.59) scale(1.0152,1.0200)" font-size="43">1.5</text>
<text transform="translate(135.79,833.68) scale(1.0129,1.0200)" font-size="43">1.0</text>
<text transform="translate(136.59,942.76) scale(0.9997,1.0200)" font-size="43">0.5</text>
<text transform="translate(135.97,1051.85) scale(1.0094,1.0200)" font-size="43">0.0</text>
<text transform="translate(185.97,1101.90) scale(0.9975,1.0200)" font-size="43">250</text>
<text transform="translate(306.10,1101.90) scale(0.9993,1.0200)" font-size="43">300</text>
<text transform="translate(426.35,1101.90) scale(0.9993,1.0200)" font-size="43">350</text>
<text transform="translate(547.79,1101.90) scale(0.9802,1.0200)" font-size="43">400</text>
<text transform="translate(668.04,1101.90) scale(0.9802,1.0200)" font-size="43">450</text>
<text transform="translate(786.64,1101.90) scale(1.0064,1.0200)" font-size="43">500</text>
<text transform="translate(906.88,1101.90) scale(1.0064,1.0200)" font-size="43">550</text>
<text transform="translate(1027.80,1101.90) scale(0.9957,1.0200)" font-size="43">600</text>
<text transform="translate(1148.04,1101.90) scale(0.9957,1.0200)" font-size="43">650</text>
<text transform="translate(1267.28,1101.90) scale(1.0118,1.0200)" font-size="43">700</text>
<text transform="translate(1387.53,1101.90) scale(1.0118,1.0200)" font-size="43">750</text>
<text transform="translate(1509.00,1101.90) scale(0.9922,1.0200)" font-size="43">800</text>
<path d="M200.0,1042.65 H1541.8 M200.0,606.30 H218.3 M208.0,660.84 H218.3 M200.0,715.39 H218.3 M208.0,769.93 H218.3 M200.0,824.48 H218.3 M208.0,879.02 H218.3 M200.0,933.56 H218.3 M208.0,988.11 H218.3 " stroke="#000" stroke-width="2.0" fill="none"/>
<path d="M218.3,605.30 V1060.5500000000002 M278.42,1042.65 V1052.5500000000002 M338.55,1042.65 V1060.5500000000002 M398.67,1042.65 V1052.5500000000002 M458.79,1042.65 V1060.5500000000002 M518.91,1042.65 V1052.5500000000002 M579.04,1042.65 V1060.5500000000002 M639.16,1042.65 V1052.5500000000002 M699.28,1042.65 V1060.5500000000002 M759.40,1042.65 V1052.5500000000002 M819.53,1042.65 V1060.5500000000002 M879.65,1042.65 V1052.5500000000002 M939.77,1042.65 V1060.5500000000002 M999.90,1042.65 V1052.5500000000002 M1060.02,1042.65 V1060.5500000000002 M1120.14,1042.65 V1052.5500000000002 M1180.26,1042.65 V1060.5500000000002 M1240.39,1042.65 V1052.5500000000002 M1300.51,1042.65 V1060.5500000000002 M1360.63,1042.65 V1052.5500000000002 M1420.75,1042.65 V1060.5500000000002 M1480.88,1042.65 V1052.5500000000002 M1541.00,1042.65 V1060.5500000000002 " stroke="#000" stroke-width="1.6" fill="none"/>
<text transform="translate(1332.42,250.60) scale(1.0829,1.0000)" font-size="41.5">5Au-120</text>
<text transform="translate(1348.60,303.30) scale(1.0877,1.0000)" font-size="41.5">5Au-15</text>
<text transform="translate(1321.30,353.30) scale(1.0721,1.0000)" font-size="41.5">2Au-120</text>
<text transform="translate(1314.38,406.20) scale(1.0831,1.0000)" font-size="41.5">2Au-15</text>
<text transform="translate(1297.63,864.60) scale(1.0770,1.0000)" font-size="41.5">5Au-120C</text>
<text transform="translate(1309.91,922.80) scale(1.0867,1.0000)" font-size="41.5">5Au-15C</text>
<text transform="translate(1277.99,977.90) scale(1.0737,1.0000)" font-size="41.5">2Au-120C</text>
<text transform="translate(1266.37,1032.00) scale(1.0856,1.0000)" font-size="41.5">2Au-15C</text>
<text transform="translate(519.69,94.00) scale(0.9809,1.0000)" font-size="83">A</text>
<text transform="translate(518.14,697.60) scale(0.9382,1.0000)" font-size="84">B</text>
<text transform="translate(312.76,329.60) scale(1.0347,1.0000)" font-size="43.5">S-TiO</text>
<text transform="translate(421.85,348.50) scale(1.0673,1.0000)" font-size="26">2</text>
<text transform="translate(249.00,448.00) scale(1.0364,1.0000)" font-size="36">0.2 a.u</text>
<text transform="translate(243.90,1012.80) scale(1.0364,1.0000)" font-size="36">0.2 a.u</text>
<path d="M363.7,412.6 V455.6" stroke="#000" stroke-width="3.7" fill="none"/>
<path d="M356.0,412.6 H371.4 M356.0,455.6 H371.4" stroke="#000" stroke-width="3.4" stroke-linecap="round" fill="none"/>
<path d="M358.8,976.6 V1020.4" stroke="#000" stroke-width="3.7" fill="none"/>
<path d="M351.1,976.6 H366.5 M351.1,1020.4 H366.5" stroke="#000" stroke-width="3.4" stroke-linecap="round" fill="none"/>
<text transform="translate(633.20,1204.60) scale(1.0947,1.0300)" font-size="73">Wavelength</text>
<text transform="translate(1030.20,1204.60) scale(1.0649,1.0300)" font-size="73">(nm)</text>
<text transform="translate(76.6,935.4) rotate(-90) scale(1.0774,1.03) translate(-2.19,0)" font-size="73">Normalized</text>
<text transform="translate(76.6,540.1) rotate(-90) scale(1.0654,1.03) translate(-1.46,0)" font-size="73">intensity</text>
<text transform="translate(76.6,249.2) rotate(-90) scale(1.0294,1.03) translate(-3.28,0)" font-size="73">(a.u)</text>
</svg>
</body></html>
